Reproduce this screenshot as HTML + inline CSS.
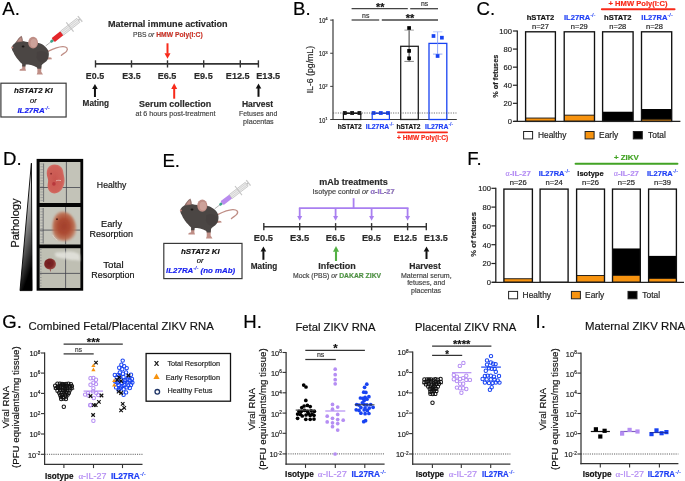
<!DOCTYPE html>
<html><head><meta charset="utf-8"><title>Figure</title>
<style>
html,body{margin:0;padding:0;background:#fff;}
body{width:685px;height:481px;overflow:hidden;position:relative;}
svg{position:absolute;left:0;top:0;display:block;filter:blur(0.3px);}
text{font-family:"Liberation Sans",sans-serif;}
</style></head><body>
<svg width="685" height="481" viewBox="0 0 685 481">
<defs><linearGradient id="tri" x1="0" y1="0" x2="0.25" y2="1"><stop offset="0" stop-color="#fff"/><stop offset="0.35" stop-color="#d8d8d8"/><stop offset="0.75" stop-color="#555"/><stop offset="1" stop-color="#000"/></linearGradient><filter id="bl1" x="-20%" y="-20%" width="140%" height="140%"><feGaussianBlur stdDeviation="0.45"/></filter><filter id="bl2" x="-20%" y="-20%" width="140%" height="140%"><feGaussianBlur stdDeviation="0.9"/></filter><radialGradient id="emb1" cx="0.45" cy="0.5" r="0.6"><stop offset="0" stop-color="#c9564f"/><stop offset="0.75" stop-color="#cf625a"/><stop offset="1" stop-color="#d6847a"/></radialGradient><radialGradient id="emb2" cx="0.48" cy="0.5" r="0.55"><stop offset="0" stop-color="#a2402c"/><stop offset="0.45" stop-color="#ac4a32"/><stop offset="0.8" stop-color="#bb6a4c" stop-opacity="0.9"/><stop offset="1" stop-color="#c99a84" stop-opacity="0.55"/></radialGradient><radialGradient id="emb3" cx="0.4" cy="0.45" r="0.6"><stop offset="0" stop-color="#6e1c1e"/><stop offset="0.6" stop-color="#7a2424"/><stop offset="1" stop-color="#9a4a42"/></radialGradient></defs>
<text x="2.3" y="15" font-size="18.6" fill="#000" stroke="#000" stroke-width="0.18">A.</text>
<text x="293" y="14.6" font-size="18.6" fill="#000" stroke="#000" stroke-width="0.18">B.</text>
<text x="476.6" y="15.2" font-size="18.6" fill="#000" stroke="#000" stroke-width="0.18">C.</text>
<text x="3" y="165" font-size="18.6" fill="#000" stroke="#000" stroke-width="0.18">D.</text>
<text x="162.4" y="166.8" font-size="18.6" fill="#000" stroke="#000" stroke-width="0.18">E.</text>
<text x="467.3" y="165" font-size="18.6" fill="#000" stroke="#000" stroke-width="0.18">F.</text>
<text x="2.3" y="328.1" font-size="18.6" fill="#000" stroke="#000" stroke-width="0.18">G.</text>
<text x="243.3" y="328" font-size="18.6" fill="#000" stroke="#000" stroke-width="0.18">H.</text>
<text x="535.6" y="328.2" font-size="18.6" fill="#000" stroke="#000" stroke-width="0.18">I.</text>
<g transform="translate(0,0) scale(1)"><path d="M48,51.4 C52.5,49.2 57.5,46.8 62.5,46.6 C66.8,46.4 68.6,48.6 66.5,51.3 C65,53.2 62.6,53.6 61.4,55.4" fill="none" stroke="#bf8e86" stroke-width="1.3" stroke-linecap="round"/><path d="M47.4,57.2 L51.2,57.6 L52,59.2 L47.2,59.6 Z" fill="#bf8e86"/><path d="M22.2,63.5 L25.4,63.5 L25.4,68.6 L26,70.7 L19.5,70.7 L19.9,69.2 L22.2,68.6 Z" fill="#bf8e86"/><path d="M37.4,66 L41.4,66 L41.2,71.8 L43,74.6 L36.7,74.6 L37.4,72.4 Z" fill="#bf8e86"/><path d="M11.6,47.3 C12.2,45.6 13.2,44.5 14.6,43.4 C15.6,42.6 16.4,41.8 17.1,41.1 L22.8,41.1 C25,41.6 27,42 29,42.2 C33,42.5 36,42.6 38.6,43 C41,43.6 43.4,44.9 45,46.4 C47.2,48.3 48.6,50.6 48.8,53 C49,55.5 48.6,58 47.2,60.2 C46.2,61.6 44.8,62.6 43.4,63.4 C42.4,64 41.8,64.6 41.6,65.5 L41.2,68.8 L37.4,68.8 L37,67.4 C35,66.4 33,65.4 31,65 C29,64.7 27,64.5 25.7,64.5 L25.4,66.6 L22.2,66.6 L22.3,64 C21,63 19.8,62 19,60.7 C17.6,59 16.4,57.6 15.7,56.4 C14.6,55 13.8,53.6 13.3,52.1 C12.6,51 11.8,49.8 11.6,47.3 Z" fill="#4b4644"/><path d="M37,52 C41,50 46,51 47.8,54.5 C48.6,57.5 46.8,60.5 44,62 C40.5,63.2 37.5,61 36.6,57.5 Z" fill="#3e3937" opacity="0.3"/><path d="M15.8,42.6 C17.2,39.6 19.2,37.2 21.5,35.8 C22.6,38 23,40 22.8,41.8 Z" fill="#8e6e69"/><path d="M17.6,41.6 C18.6,39.6 19.9,38.1 21.2,37.3 C21.7,38.8 21.8,40.2 21.6,41.3 Z" fill="#bf8e86"/><ellipse cx="33.1" cy="42.7" rx="4.9" ry="5.9" fill="#bf8e86"/><ellipse cx="33.7" cy="43.2" rx="3.2" ry="4.1" fill="#cda29a"/><ellipse cx="23.1" cy="46.5" rx="1.4" ry="0.95" fill="#1b1716"/><circle cx="12.3" cy="47.4" r="1.0" fill="#c98a82"/></g>
<g transform="translate(45.6,46) rotate(-38.1) scale(1)"><line x1="0" y1="0" x2="7" y2="0" stroke="#8a8a8a" stroke-width="0.6"/><rect x="6.3" y="-1.4" width="3.6" height="2.8" rx="1" fill="#3fa58c"/><rect x="9.6" y="-2.5" width="11.2" height="5.0" rx="0.6" fill="#e3262b"/><rect x="20.8" y="-2.5" width="20.8" height="5.0" fill="#ececec" stroke="#a8a8a8" stroke-width="0.5"/><line x1="21" y1="-0.9" x2="41.4" y2="-0.9" stroke="#c6c6c6" stroke-width="0.6"/><line x1="21" y1="0.9" x2="41.4" y2="0.9" stroke="#c6c6c6" stroke-width="0.6"/><line x1="30.9" y1="-5.9" x2="30.9" y2="5.9" stroke="#c4c4c4" stroke-width="1.1"/><line x1="41.6" y1="0" x2="43.6" y2="0" stroke="#bdbdbd" stroke-width="1.6"/><line x1="43.8" y1="-3.6" x2="43.8" y2="3.6" stroke="#c9c9c9" stroke-width="1.4"/></g>
<rect x="0.9" y="83.2" width="65.2" height="33.8" fill="#fff" stroke="#3a3a3a" stroke-width="1.2" />
<text x="33.3" y="92.8" font-size="7.9" font-weight="bold" font-style="italic" fill="#111" stroke="#111" stroke-width="0.18" text-anchor="middle">hSTAT2 KI</text>
<text x="33.3" y="102.9" font-size="7.6" font-style="italic" fill="#111" stroke="#111" stroke-width="0.18" text-anchor="middle">or</text>
<text x="17.4" y="112.8" font-size="7.9" font-weight="bold" font-style="italic" fill="#1a22f0" stroke="#1a22f0" stroke-width="0.18">IL27RA<tspan font-size="5.38" font-weight="normal" dy="-3">-/-</tspan></text>
<line x1="95.4" y1="63.9" x2="258.6" y2="63.9" stroke="#333" stroke-width="1.6" />
<line x1="95.5" y1="60.3" x2="95.5" y2="67.5" stroke="#333" stroke-width="1.4" />
<line x1="131.5" y1="60.3" x2="131.5" y2="67.5" stroke="#333" stroke-width="1.4" />
<line x1="167.5" y1="60.3" x2="167.5" y2="67.5" stroke="#333" stroke-width="1.4" />
<line x1="203.7" y1="60.3" x2="203.7" y2="67.5" stroke="#333" stroke-width="1.4" />
<line x1="240.3" y1="60.3" x2="240.3" y2="67.5" stroke="#333" stroke-width="1.4" />
<line x1="258.4" y1="60.3" x2="258.4" y2="67.5" stroke="#333" stroke-width="1.4" />
<text x="85.8" y="78.9" font-size="9.6" textLength="18.3" lengthAdjust="spacingAndGlyphs" font-weight="bold" fill="#2a2a2a" stroke="#2a2a2a" stroke-width="0.18">E0.5</text>
<text x="122.3" y="78.9" font-size="9.6" textLength="18.3" lengthAdjust="spacingAndGlyphs" font-weight="bold" fill="#2a2a2a" stroke="#2a2a2a" stroke-width="0.18">E3.5</text>
<text x="157.7" y="78.9" font-size="9.6" textLength="18.7" lengthAdjust="spacingAndGlyphs" font-weight="bold" fill="#2a2a2a" stroke="#2a2a2a" stroke-width="0.18">E6.5</text>
<text x="194" y="78.9" font-size="9.6" textLength="18.7" lengthAdjust="spacingAndGlyphs" font-weight="bold" fill="#2a2a2a" stroke="#2a2a2a" stroke-width="0.18">E9.5</text>
<text x="225.8" y="78.9" font-size="9.6" textLength="23.9" lengthAdjust="spacingAndGlyphs" font-weight="bold" fill="#2a2a2a" stroke="#2a2a2a" stroke-width="0.18">E12.5</text>
<text x="256.2" y="78.9" font-size="9.6" textLength="24" lengthAdjust="spacingAndGlyphs" font-weight="bold" fill="#2a2a2a" stroke="#2a2a2a" stroke-width="0.18">E13.5</text>
<text x="108" y="27.4" font-size="9.6" textLength="119.6" lengthAdjust="spacingAndGlyphs" font-weight="bold" fill="#2a2a2a" stroke="#2a2a2a" stroke-width="0.18">Maternal immune activation</text>
<text x="132.9" y="36.6" font-size="7.6" textLength="69.8" lengthAdjust="spacingAndGlyphs" fill="#444" stroke="#444" stroke-width="0.18">PBS <tspan font-style="italic">or</tspan> <tspan font-weight="bold" fill="#f82a1a">HMW Poly(I:C)</tspan></text>
<line x1="167.5" y1="43.3" x2="167.5" y2="53.7" stroke="#f82a1a" stroke-width="2" />
<path d="M164.5,53.2 L170.5,53.2 L167.5,58.8 Z" fill="#f82a1a" />
<line x1="94.95" y1="88.5" x2="94.95" y2="97" stroke="#111" stroke-width="2" />
<path d="M92.15,89 L97.75,89 L94.95,84 Z" fill="#111" />
<line x1="174.2" y1="88.4" x2="174.2" y2="98.7" stroke="#f82a1a" stroke-width="2" />
<path d="M171.2,88.9 L177.2,88.9 L174.2,83.3 Z" fill="#f82a1a" />
<line x1="258.5" y1="87.9" x2="258.5" y2="96.8" stroke="#111" stroke-width="2" />
<path d="M255.7,88.4 L261.3,88.4 L258.5,83.4 Z" fill="#111" />
<text x="82.6" y="105.7" font-size="8.7" textLength="26.3" lengthAdjust="spacingAndGlyphs" font-weight="bold" fill="#2a2a2a" stroke="#2a2a2a" stroke-width="0.18">Mating</text>
<text x="139" y="106.8" font-size="9" textLength="72.2" lengthAdjust="spacingAndGlyphs" font-weight="bold" fill="#2a2a2a" stroke="#2a2a2a" stroke-width="0.18">Serum collection</text>
<text x="135.4" y="115.6" font-size="7.3" textLength="80.2" lengthAdjust="spacingAndGlyphs" fill="#444" stroke="#444" stroke-width="0.18">at 6 hours post-treatment</text>
<text x="241.9" y="106.6" font-size="8.6" textLength="31.3" lengthAdjust="spacingAndGlyphs" font-weight="bold" fill="#2a2a2a" stroke="#2a2a2a" stroke-width="0.18">Harvest</text>
<text x="239" y="116" font-size="7.3" textLength="38.3" lengthAdjust="spacingAndGlyphs" fill="#444" stroke="#444" stroke-width="0.18">Fetuses and</text>
<text x="243.1" y="123.8" font-size="7.3" textLength="30.6" lengthAdjust="spacingAndGlyphs" fill="#444" stroke="#444" stroke-width="0.18">placentas</text>
<line x1="333" y1="19.2" x2="333" y2="120.1" stroke="#3a3a3a" stroke-width="1.2" />
<line x1="332.4" y1="119.5" x2="456.8" y2="119.5" stroke="#3a3a3a" stroke-width="1.2" />
<line x1="330.2" y1="119.5" x2="333" y2="119.5" stroke="#3a3a3a" stroke-width="1" />
<text x="319.1" y="122.5" font-size="6.7" textLength="6.1" lengthAdjust="spacingAndGlyphs" fill="#222" stroke="#222" stroke-width="0.18">10</text>
<text x="325.3" y="119.8" font-size="4.3" fill="#222" stroke="#222" stroke-width="0.18">1</text>
<line x1="330.2" y1="86.37" x2="333" y2="86.37" stroke="#3a3a3a" stroke-width="1" />
<text x="319.1" y="89.37" font-size="6.7" textLength="6.1" lengthAdjust="spacingAndGlyphs" fill="#222" stroke="#222" stroke-width="0.18">10</text>
<text x="325.3" y="86.67" font-size="4.3" fill="#222" stroke="#222" stroke-width="0.18">2</text>
<line x1="330.2" y1="53.24" x2="333" y2="53.24" stroke="#3a3a3a" stroke-width="1" />
<text x="319.1" y="56.24" font-size="6.7" textLength="6.1" lengthAdjust="spacingAndGlyphs" fill="#222" stroke="#222" stroke-width="0.18">10</text>
<text x="325.3" y="53.54" font-size="4.3" fill="#222" stroke="#222" stroke-width="0.18">3</text>
<line x1="330.2" y1="20.11" x2="333" y2="20.11" stroke="#3a3a3a" stroke-width="1" />
<text x="319.1" y="23.11" font-size="6.7" textLength="6.1" lengthAdjust="spacingAndGlyphs" fill="#222" stroke="#222" stroke-width="0.18">10</text>
<text x="325.3" y="20.41" font-size="4.3" fill="#222" stroke="#222" stroke-width="0.18">4</text>
<rect x="343.4" y="113.4" width="17.4" height="6.1" fill="#fff" stroke="#111" stroke-width="1.2" />
<rect x="372.2" y="113.4" width="17.2" height="6.1" fill="#fff" stroke="#1843f2" stroke-width="1.2" />
<line x1="344.6" y1="113" x2="359.6" y2="113" stroke="#111" stroke-width="1" />
<line x1="373.4" y1="113" x2="388.2" y2="113" stroke="#1843f2" stroke-width="1" />
<rect x="342.9" y="111.1" width="3.8" height="3.8" fill="#111" />
<rect x="350.2" y="111.1" width="3.8" height="3.8" fill="#111" />
<rect x="357.5" y="111.1" width="3.8" height="3.8" fill="#111" />
<rect x="371.7" y="111.1" width="3.8" height="3.8" fill="#1843f2" />
<rect x="378.9" y="111.1" width="3.8" height="3.8" fill="#1843f2" />
<rect x="386.1" y="111.1" width="3.8" height="3.8" fill="#1843f2" />
<rect x="400.7" y="46.3" width="17.6" height="73.2" fill="#fff" stroke="#222" stroke-width="1.3" />
<line x1="409.1" y1="30.1" x2="409.1" y2="61.4" stroke="#222" stroke-width="0.9" />
<line x1="404.4" y1="30.1" x2="413.9" y2="30.1" stroke="#888" stroke-width="0.8" />
<line x1="404.4" y1="61.4" x2="413.9" y2="61.4" stroke="#666" stroke-width="0.8" />
<rect x="407.25" y="26.15" width="3.7" height="3.7" fill="#000" />
<rect x="407.25" y="49.05" width="3.7" height="3.7" fill="#000" />
<rect x="407.25" y="56.45" width="3.7" height="3.7" fill="#000" />
<rect x="429" y="43.4" width="17.8" height="76.1" fill="#fff" stroke="#1843f2" stroke-width="1.3" />
<line x1="437.6" y1="31.8" x2="437.6" y2="54.1" stroke="#7b96f5" stroke-width="0.8" />
<line x1="433" y1="31.8" x2="442.4" y2="31.8" stroke="#a9bcf7" stroke-width="0.8" />
<line x1="433" y1="54.1" x2="442.4" y2="54.1" stroke="#7b96f5" stroke-width="0.8" />
<rect x="431.65" y="34.15" width="3.7" height="3.7" fill="#1843f2" />
<rect x="440.05" y="35.85" width="3.7" height="3.7" fill="#1843f2" />
<rect x="435.75" y="54.15" width="3.7" height="3.7" fill="#1843f2" />
<line x1="333" y1="113" x2="456.5" y2="113" stroke="#444" stroke-width="0.75" stroke-dasharray="1.2,1.2"/>
<line x1="351.6" y1="8.7" x2="407.8" y2="8.7" stroke="#444" stroke-width="1.3" />
<line x1="410.2" y1="8.7" x2="438" y2="8.7" stroke="#444" stroke-width="1.3" />
<line x1="351.6" y1="20" x2="379.2" y2="20" stroke="#444" stroke-width="1.3" />
<line x1="381.8" y1="20" x2="438" y2="20" stroke="#444" stroke-width="1.3" />
<text x="376" y="10.6" font-size="10" textLength="8.4" lengthAdjust="spacingAndGlyphs" font-weight="bold" fill="#111" stroke="#111" stroke-width="0.18">**</text>
<text x="421" y="5.9" font-size="6.8" textLength="7.2" lengthAdjust="spacingAndGlyphs" fill="#333" stroke="#333" stroke-width="0.18">ns</text>
<text x="362.1" y="17.7" font-size="6.8" textLength="7.3" lengthAdjust="spacingAndGlyphs" fill="#333" stroke="#333" stroke-width="0.18">ns</text>
<text x="405.8" y="21.6" font-size="10" textLength="8.6" lengthAdjust="spacingAndGlyphs" font-weight="bold" fill="#111" stroke="#111" stroke-width="0.18">**</text>
<text x="0" y="0" font-size="9.4" textLength="47.4" lengthAdjust="spacingAndGlyphs" fill="#222" stroke="#222" stroke-width="0.18" text-anchor="middle" transform="translate(312.6,69.65) rotate(-90)">IL-6 (pg/mL)</text>
<text x="349.7" y="129" font-size="6.6" font-weight="bold" fill="#111" stroke="#111" stroke-width="0.18" text-anchor="middle">hSTAT2</text>
<text x="365.8" y="129" font-size="6.8" font-weight="bold" fill="#1f3ff5" stroke="#1f3ff5" stroke-width="0.18">IL27RA<tspan font-size="4.93" font-weight="normal" dy="-2.6">-/-</tspan></text>
<text x="408.4" y="129" font-size="6.6" font-weight="bold" fill="#111" stroke="#111" stroke-width="0.18" text-anchor="middle">hSTAT2</text>
<text x="425" y="129" font-size="6.8" font-weight="bold" fill="#1f3ff5" stroke="#1f3ff5" stroke-width="0.18">IL27RA<tspan font-size="4.93" font-weight="normal" dy="-2.6">-/-</tspan></text>
<line x1="397.9" y1="132.3" x2="447.1" y2="132.3" stroke="#f82a1a" stroke-width="1.7" stroke-linecap="round"/>
<text x="422.6" y="139.9" font-size="6.6" font-weight="bold" fill="#f82a1a" stroke="#f82a1a" stroke-width="0.18" text-anchor="middle">+ HMW Poly(I:C)</text>
<rect x="525.6" y="31" width="29.8" height="90.4" fill="#fff" />
<rect x="525.6" y="118.06" width="29.8" height="3.34" fill="#f7930f" />
<line x1="525.6" y1="118.06" x2="555.4" y2="118.06" stroke="#111" stroke-width="0.9" />
<rect x="525.6" y="31.8" width="29.8" height="89.6" fill="none" stroke="#111" stroke-width="1.35" />
<rect x="564.2" y="31" width="30.3" height="90.4" fill="#fff" />
<rect x="564.2" y="115.16" width="30.3" height="6.24" fill="#f7930f" />
<line x1="564.2" y1="115.16" x2="594.5" y2="115.16" stroke="#111" stroke-width="0.9" />
<rect x="564.2" y="31.8" width="30.3" height="89.6" fill="none" stroke="#111" stroke-width="1.35" />
<rect x="602.6" y="31" width="30.5" height="90.4" fill="#fff" />
<rect x="602.6" y="111.73" width="30.5" height="9.67" fill="#000" />
<rect x="602.6" y="31.8" width="30.5" height="89.6" fill="none" stroke="#111" stroke-width="1.35" />
<rect x="641.5" y="31" width="30.2" height="90.4" fill="#fff" />
<rect x="641.5" y="109.02" width="30.2" height="12.38" fill="#000" />
<rect x="641.5" y="119.23" width="30.2" height="2.17" fill="#f7930f" />
<line x1="641.5" y1="119.23" x2="671.7" y2="119.23" stroke="#111" stroke-width="0.9" />
<rect x="641.5" y="31.8" width="30.2" height="89.6" fill="none" stroke="#111" stroke-width="1.35" />
<line x1="517.3" y1="30.5" x2="517.3" y2="122" stroke="#222" stroke-width="1.3" />
<line x1="513.7" y1="121.4" x2="680.4" y2="121.4" stroke="#222" stroke-width="1.3" />
<line x1="512.9" y1="121.4" x2="517.3" y2="121.4" stroke="#222" stroke-width="1.2" />
<text x="511.9" y="124.2" font-size="7.6" fill="#222" stroke="#222" stroke-width="0.18" text-anchor="end">0</text>
<line x1="512.9" y1="103.32" x2="517.3" y2="103.32" stroke="#222" stroke-width="1.2" />
<text x="511.9" y="106.12" font-size="7.6" fill="#222" stroke="#222" stroke-width="0.18" text-anchor="end">20</text>
<line x1="512.9" y1="85.24" x2="517.3" y2="85.24" stroke="#222" stroke-width="1.2" />
<text x="511.9" y="88.04" font-size="7.6" fill="#222" stroke="#222" stroke-width="0.18" text-anchor="end">40</text>
<line x1="512.9" y1="67.16" x2="517.3" y2="67.16" stroke="#222" stroke-width="1.2" />
<text x="511.9" y="69.96" font-size="7.6" fill="#222" stroke="#222" stroke-width="0.18" text-anchor="end">60</text>
<line x1="512.9" y1="49.08" x2="517.3" y2="49.08" stroke="#222" stroke-width="1.2" />
<text x="511.9" y="51.88" font-size="7.6" fill="#222" stroke="#222" stroke-width="0.18" text-anchor="end">80</text>
<line x1="512.9" y1="31" x2="517.3" y2="31" stroke="#222" stroke-width="1.2" />
<text x="511.9" y="33.8" font-size="7.6" fill="#222" stroke="#222" stroke-width="0.18" text-anchor="end">100</text>
<text x="540.5" y="19.7" font-size="7.6" font-weight="bold" fill="#111" stroke="#111" stroke-width="0.18" text-anchor="middle">hSTAT2</text>
<text x="540.5" y="28.9" font-size="7.5" fill="#222" stroke="#222" stroke-width="0.18" text-anchor="middle">n=27</text>
<text x="564" y="19.7" font-size="7.6" font-weight="bold" fill="#1f3ff5" stroke="#1f3ff5" stroke-width="0.18">IL27RA<tspan font-size="5.6" font-weight="normal" dy="-3">-/-</tspan></text>
<text x="579.3" y="28.9" font-size="7.5" fill="#222" stroke="#222" stroke-width="0.18" text-anchor="middle">n=29</text>
<text x="617.8" y="19.7" font-size="7.6" font-weight="bold" fill="#111" stroke="#111" stroke-width="0.18" text-anchor="middle">hSTAT2</text>
<text x="617.8" y="28.9" font-size="7.5" fill="#222" stroke="#222" stroke-width="0.18" text-anchor="middle">n=28</text>
<text x="641.3" y="19.7" font-size="7.6" font-weight="bold" fill="#1f3ff5" stroke="#1f3ff5" stroke-width="0.18">IL27RA<tspan font-size="5.6" font-weight="normal" dy="-3">-/-</tspan></text>
<text x="654.5" y="28.9" font-size="7.5" fill="#222" stroke="#222" stroke-width="0.18" text-anchor="middle">n=28</text>
<line x1="601.9" y1="9.2" x2="674.5" y2="9.2" stroke="#f82a1a" stroke-width="2.1" stroke-linecap="round"/>
<text x="638" y="6.4" font-size="7.6" font-weight="bold" fill="#f82a1a" stroke="#f82a1a" stroke-width="0.18" text-anchor="middle">+ HMW Poly(I:C)</text>
<text x="0" y="0" font-size="7.3" font-weight="bold" fill="#222" stroke="#222" stroke-width="0.18" text-anchor="middle" transform="translate(497.8,76.2) rotate(-90)">% of fetuses</text>
<rect x="523.6" y="131.5" width="9" height="7.4" fill="#fff" stroke="#222" stroke-width="1" />
<text x="538" y="138.2" font-size="8.4" fill="#222" stroke="#222" stroke-width="0.18">Healthy</text>
<rect x="585.1" y="131.5" width="9" height="7.4" fill="#f7930f" stroke="#222" stroke-width="1" />
<text x="599.1" y="138.2" font-size="8.4" fill="#222" stroke="#222" stroke-width="0.18">Early</text>
<rect x="633.3" y="131.5" width="9" height="7.4" fill="#000" stroke="#222" stroke-width="1" />
<text x="648.1" y="138.2" font-size="8.4" fill="#222" stroke="#222" stroke-width="0.18">Total</text>
<path d="M31.4,163.2 L32.1,290.6 L20.0,290.6 Z" fill="url(#tri)" stroke="#000" stroke-width="0.9" />
<text x="0" y="0" font-size="10.9" textLength="49.3" lengthAdjust="spacingAndGlyphs" fill="#111" stroke="#111" stroke-width="0.18" text-anchor="middle" transform="translate(18.5,223.1) rotate(-90)">Pathology</text>
<rect x="36.6" y="158.9" width="46.6" height="131.8" fill="#050505" />
<rect x="39.6" y="162" width="40.8" height="41" fill="#c3c3b8" />
<rect x="39.6" y="207" width="40.8" height="37.5" fill="#c6c6bc" />
<rect x="39.6" y="248.2" width="40.8" height="39.8" fill="#bfbfb3" />
<line x1="66.4" y1="162" x2="66.4" y2="203" stroke="#42444c" stroke-width="0.8" />
<line x1="39.6" y1="187.5" x2="80.4" y2="187.5" stroke="#42444c" stroke-width="0.8" />
<line x1="43.6" y1="163.5" x2="43.6" y2="202" stroke="#4a4c54" stroke-width="0.7" />
<line x1="40.4" y1="164" x2="43.4" y2="164" stroke="#7a7c84" stroke-width="0.5" />
<line x1="40.4" y1="166.8" x2="43.4" y2="166.8" stroke="#7a7c84" stroke-width="0.5" />
<line x1="40.4" y1="169.6" x2="43.4" y2="169.6" stroke="#7a7c84" stroke-width="0.5" />
<line x1="40.4" y1="172.4" x2="43.4" y2="172.4" stroke="#7a7c84" stroke-width="0.5" />
<line x1="40.4" y1="175.2" x2="43.4" y2="175.2" stroke="#7a7c84" stroke-width="0.5" />
<line x1="40.4" y1="178" x2="43.4" y2="178" stroke="#7a7c84" stroke-width="0.5" />
<line x1="40.4" y1="180.8" x2="43.4" y2="180.8" stroke="#7a7c84" stroke-width="0.5" />
<line x1="40.4" y1="183.6" x2="43.4" y2="183.6" stroke="#7a7c84" stroke-width="0.5" />
<line x1="40.4" y1="186.4" x2="43.4" y2="186.4" stroke="#7a7c84" stroke-width="0.5" />
<line x1="40.4" y1="189.2" x2="43.4" y2="189.2" stroke="#7a7c84" stroke-width="0.5" />
<line x1="40.4" y1="192" x2="43.4" y2="192" stroke="#7a7c84" stroke-width="0.5" />
<line x1="40.4" y1="194.8" x2="43.4" y2="194.8" stroke="#7a7c84" stroke-width="0.5" />
<line x1="40.4" y1="197.6" x2="43.4" y2="197.6" stroke="#7a7c84" stroke-width="0.5" />
<line x1="40.4" y1="200.4" x2="43.4" y2="200.4" stroke="#7a7c84" stroke-width="0.5" />
<path d="M54.6,164.6 C59.5,164.6 63.2,167.8 63.4,172.5 C63.6,175.5 64.8,177.5 64.6,181 C64.4,187 60.5,193.4 54.6,193.4 C50,193.4 47.4,189.5 47.6,185.5 C47.8,182.5 48.6,181 47.8,178.5 C46.6,175 46.2,171.5 47.6,168.6 C49,165.8 51.6,164.6 54.6,164.6 Z" fill="url(#emb1)" filter="url(#bl1)"/>
<circle cx="51.1" cy="173.7" r="0.9" fill="#8a2a2a"/>
<circle cx="53.9" cy="183.9" r="1.8" fill="#b8383c"/>
<path d="M56,180.8 C57.8,180.2 59.6,180.2 61,180.6" fill="none" stroke="#f1dcd6" stroke-width="0.6" />
<line x1="65.6" y1="207" x2="65.6" y2="244.5" stroke="#42444c" stroke-width="0.8" />
<line x1="39.6" y1="230.1" x2="80.4" y2="230.1" stroke="#42444c" stroke-width="0.8" />
<line x1="43.2" y1="208" x2="43.2" y2="243.5" stroke="#4a4c54" stroke-width="0.7" />
<line x1="40.4" y1="209" x2="43" y2="209" stroke="#7a7c84" stroke-width="0.5" />
<line x1="40.4" y1="211.8" x2="43" y2="211.8" stroke="#7a7c84" stroke-width="0.5" />
<line x1="40.4" y1="214.6" x2="43" y2="214.6" stroke="#7a7c84" stroke-width="0.5" />
<line x1="40.4" y1="217.4" x2="43" y2="217.4" stroke="#7a7c84" stroke-width="0.5" />
<line x1="40.4" y1="220.2" x2="43" y2="220.2" stroke="#7a7c84" stroke-width="0.5" />
<line x1="40.4" y1="223" x2="43" y2="223" stroke="#7a7c84" stroke-width="0.5" />
<line x1="40.4" y1="225.8" x2="43" y2="225.8" stroke="#7a7c84" stroke-width="0.5" />
<line x1="40.4" y1="228.6" x2="43" y2="228.6" stroke="#7a7c84" stroke-width="0.5" />
<line x1="40.4" y1="231.4" x2="43" y2="231.4" stroke="#7a7c84" stroke-width="0.5" />
<line x1="40.4" y1="234.2" x2="43" y2="234.2" stroke="#7a7c84" stroke-width="0.5" />
<line x1="40.4" y1="237" x2="43" y2="237" stroke="#7a7c84" stroke-width="0.5" />
<line x1="40.4" y1="239.8" x2="43" y2="239.8" stroke="#7a7c84" stroke-width="0.5" />
<line x1="40.4" y1="242.6" x2="43" y2="242.6" stroke="#7a7c84" stroke-width="0.5" />
<path d="M62,211.6 C67.5,211.5 72,215 74.5,220.5 C76.5,225 77,230.5 75.5,234.5 C73.5,239 68.5,241.2 63.5,241 C58.5,240.8 54.5,239 53.2,234.5 C52,230 52,224 53.5,219.5 C55,214.5 58,211.7 62,211.6 Z" fill="url(#emb2)" filter="url(#bl2)"/>
<circle cx="57" cy="219.2" r="0.9" fill="#4a1a14"/>
<path d="M52.6,234.8 C53.8,237.4 55.6,239.2 57.4,240.2" fill="none" stroke="#efe4da" stroke-width="0.6" />
<line x1="65.6" y1="248.2" x2="65.6" y2="288" stroke="#42444c" stroke-width="0.8" />
<line x1="39.6" y1="273.4" x2="80.4" y2="273.4" stroke="#42444c" stroke-width="0.8" />
<line x1="39.8" y1="249.5" x2="41.6" y2="249.5" stroke="#6a6c74" stroke-width="0.5" />
<line x1="39.8" y1="252.3" x2="41.6" y2="252.3" stroke="#6a6c74" stroke-width="0.5" />
<line x1="39.8" y1="255.1" x2="41.6" y2="255.1" stroke="#6a6c74" stroke-width="0.5" />
<line x1="39.8" y1="257.9" x2="41.6" y2="257.9" stroke="#6a6c74" stroke-width="0.5" />
<line x1="39.8" y1="260.7" x2="41.6" y2="260.7" stroke="#6a6c74" stroke-width="0.5" />
<line x1="39.8" y1="263.5" x2="41.6" y2="263.5" stroke="#6a6c74" stroke-width="0.5" />
<line x1="39.8" y1="266.3" x2="41.6" y2="266.3" stroke="#6a6c74" stroke-width="0.5" />
<line x1="39.8" y1="269.1" x2="41.6" y2="269.1" stroke="#6a6c74" stroke-width="0.5" />
<line x1="39.8" y1="271.9" x2="41.6" y2="271.9" stroke="#6a6c74" stroke-width="0.5" />
<line x1="39.8" y1="274.7" x2="41.6" y2="274.7" stroke="#6a6c74" stroke-width="0.5" />
<line x1="39.8" y1="277.5" x2="41.6" y2="277.5" stroke="#6a6c74" stroke-width="0.5" />
<line x1="39.8" y1="280.3" x2="41.6" y2="280.3" stroke="#6a6c74" stroke-width="0.5" />
<line x1="39.8" y1="283.1" x2="41.6" y2="283.1" stroke="#6a6c74" stroke-width="0.5" />
<line x1="39.8" y1="285.9" x2="41.6" y2="285.9" stroke="#6a6c74" stroke-width="0.5" />
<path d="M54.6,253.4 C58,251.6 63,252.6 67,251.8 C71,251 76,252.2 79.6,254.6 L80.2,261 C76.5,259.6 72,260.6 68,259.2 C64,258 59,258.4 55.6,256.4 Z" fill="#e4e4de" filter="url(#bl2)" opacity="0.85"/>
<path d="M44.2,264 C44.2,260.6 46.8,258.4 50,258.4 C53.4,258.4 55.9,260.8 55.9,264 C55.9,267.2 53.4,269.4 50.2,269.4 C46.8,269.4 44.2,267.2 44.2,264 Z" fill="url(#emb3)" filter="url(#bl1)"/>
<line x1="50.3" y1="269" x2="50.5" y2="271.4" stroke="#8a4440" stroke-width="0.8" />
<text x="111.6" y="187.8" font-size="9.4" textLength="29.5" lengthAdjust="spacingAndGlyphs" fill="#111" stroke="#111" stroke-width="0.18" text-anchor="middle">Healthy</text>
<text x="111.5" y="227" font-size="9.4" textLength="21" lengthAdjust="spacingAndGlyphs" fill="#111" stroke="#111" stroke-width="0.18" text-anchor="middle">Early</text>
<text x="111.3" y="237" font-size="9.4" textLength="43.5" lengthAdjust="spacingAndGlyphs" fill="#111" stroke="#111" stroke-width="0.18" text-anchor="middle">Resorption</text>
<text x="113.4" y="268.2" font-size="9.4" textLength="20.5" lengthAdjust="spacingAndGlyphs" fill="#111" stroke="#111" stroke-width="0.18" text-anchor="middle">Total</text>
<text x="112.9" y="278" font-size="9.4" textLength="43.3" lengthAdjust="spacingAndGlyphs" fill="#111" stroke="#111" stroke-width="0.18" text-anchor="middle">Resorption</text>
<g transform="translate(168.2,161.6) scale(1.03)"><path d="M48,51.4 C52.5,49.2 57.5,46.8 62.5,46.6 C66.8,46.4 68.6,48.6 66.5,51.3 C65,53.2 62.6,53.6 61.4,55.4" fill="none" stroke="#bf8e86" stroke-width="1.3" stroke-linecap="round"/><path d="M47.4,57.2 L51.2,57.6 L52,59.2 L47.2,59.6 Z" fill="#bf8e86"/><path d="M22.2,63.5 L25.4,63.5 L25.4,68.6 L26,70.7 L19.5,70.7 L19.9,69.2 L22.2,68.6 Z" fill="#bf8e86"/><path d="M37.4,66 L41.4,66 L41.2,71.8 L43,74.6 L36.7,74.6 L37.4,72.4 Z" fill="#bf8e86"/><path d="M11.6,47.3 C12.2,45.6 13.2,44.5 14.6,43.4 C15.6,42.6 16.4,41.8 17.1,41.1 L22.8,41.1 C25,41.6 27,42 29,42.2 C33,42.5 36,42.6 38.6,43 C41,43.6 43.4,44.9 45,46.4 C47.2,48.3 48.6,50.6 48.8,53 C49,55.5 48.6,58 47.2,60.2 C46.2,61.6 44.8,62.6 43.4,63.4 C42.4,64 41.8,64.6 41.6,65.5 L41.2,68.8 L37.4,68.8 L37,67.4 C35,66.4 33,65.4 31,65 C29,64.7 27,64.5 25.7,64.5 L25.4,66.6 L22.2,66.6 L22.3,64 C21,63 19.8,62 19,60.7 C17.6,59 16.4,57.6 15.7,56.4 C14.6,55 13.8,53.6 13.3,52.1 C12.6,51 11.8,49.8 11.6,47.3 Z" fill="#4b4644"/><path d="M37,52 C41,50 46,51 47.8,54.5 C48.6,57.5 46.8,60.5 44,62 C40.5,63.2 37.5,61 36.6,57.5 Z" fill="#3e3937" opacity="0.3"/><path d="M15.8,42.6 C17.2,39.6 19.2,37.2 21.5,35.8 C22.6,38 23,40 22.8,41.8 Z" fill="#8e6e69"/><path d="M17.6,41.6 C18.6,39.6 19.9,38.1 21.2,37.3 C21.7,38.8 21.8,40.2 21.6,41.3 Z" fill="#bf8e86"/><ellipse cx="33.1" cy="42.7" rx="4.9" ry="5.9" fill="#bf8e86"/><ellipse cx="33.7" cy="43.2" rx="3.2" ry="4.1" fill="#cda29a"/><ellipse cx="23.1" cy="46.5" rx="1.4" ry="0.95" fill="#1b1716"/><circle cx="12.3" cy="47.4" r="1.0" fill="#c98a82"/></g>
<g transform="translate(214.7,208.8) rotate(-37.5) scale(0.97)"><line x1="0" y1="0" x2="7" y2="0" stroke="#8a8a8a" stroke-width="0.6"/><rect x="6.3" y="-1.4" width="3.6" height="2.8" rx="1" fill="#3fa58c"/><rect x="9.6" y="-2.5" width="11.2" height="5.0" rx="0.6" fill="#b98bef"/><rect x="20.8" y="-2.5" width="20.8" height="5.0" fill="#ececec" stroke="#a8a8a8" stroke-width="0.5"/><line x1="21" y1="-0.9" x2="41.4" y2="-0.9" stroke="#c6c6c6" stroke-width="0.6"/><line x1="21" y1="0.9" x2="41.4" y2="0.9" stroke="#c6c6c6" stroke-width="0.6"/><line x1="30.9" y1="-5.9" x2="30.9" y2="5.9" stroke="#c4c4c4" stroke-width="1.1"/><line x1="41.6" y1="0" x2="43.6" y2="0" stroke="#bdbdbd" stroke-width="1.6"/><line x1="43.8" y1="-3.6" x2="43.8" y2="3.6" stroke="#c9c9c9" stroke-width="1.4"/></g>
<rect x="163.8" y="243.4" width="78.2" height="35.2" fill="#fff" stroke="#3a3a3a" stroke-width="1.2" />
<text x="200.3" y="253.7" font-size="7.9" font-weight="bold" font-style="italic" fill="#111" stroke="#111" stroke-width="0.18" text-anchor="middle">hSTAT2 KI</text>
<text x="200.2" y="263.4" font-size="7.6" font-style="italic" fill="#111" stroke="#111" stroke-width="0.18" text-anchor="middle">or</text>
<text x="166.1" y="272.7" font-size="7.9" font-weight="bold" font-style="italic" fill="#1a22f0" stroke="#1a22f0" stroke-width="0.18">IL27RA<tspan font-size="5.38" font-weight="normal" dy="-3">-/-</tspan><tspan dy="3.0"> (no mAb)</tspan></text>
<line x1="263.8" y1="226.7" x2="426.3" y2="226.7" stroke="#333" stroke-width="1.6" />
<line x1="263.8" y1="223.1" x2="263.8" y2="230.3" stroke="#333" stroke-width="1.4" />
<line x1="299.7" y1="223.1" x2="299.7" y2="230.3" stroke="#333" stroke-width="1.4" />
<line x1="335.6" y1="223.1" x2="335.6" y2="230.3" stroke="#333" stroke-width="1.4" />
<line x1="371.6" y1="223.1" x2="371.6" y2="230.3" stroke="#333" stroke-width="1.4" />
<line x1="407.6" y1="223.1" x2="407.6" y2="230.3" stroke="#333" stroke-width="1.4" />
<line x1="426.3" y1="223.1" x2="426.3" y2="230.3" stroke="#333" stroke-width="1.4" />
<text x="253.7" y="240.7" font-size="9.6" textLength="19.3" lengthAdjust="spacingAndGlyphs" font-weight="bold" fill="#2a2a2a" stroke="#2a2a2a" stroke-width="0.18">E0.5</text>
<text x="289.9" y="240.7" font-size="9.6" textLength="19.3" lengthAdjust="spacingAndGlyphs" font-weight="bold" fill="#2a2a2a" stroke="#2a2a2a" stroke-width="0.18">E3.5</text>
<text x="325.7" y="240.7" font-size="9.6" textLength="19.3" lengthAdjust="spacingAndGlyphs" font-weight="bold" fill="#2a2a2a" stroke="#2a2a2a" stroke-width="0.18">E6.5</text>
<text x="361.9" y="240.7" font-size="9.6" textLength="19" lengthAdjust="spacingAndGlyphs" font-weight="bold" fill="#2a2a2a" stroke="#2a2a2a" stroke-width="0.18">E9.5</text>
<text x="393.5" y="240.7" font-size="9.6" textLength="23.6" lengthAdjust="spacingAndGlyphs" font-weight="bold" fill="#2a2a2a" stroke="#2a2a2a" stroke-width="0.18">E12.5</text>
<text x="424.1" y="240.7" font-size="9.6" textLength="23.6" lengthAdjust="spacingAndGlyphs" font-weight="bold" fill="#2a2a2a" stroke="#2a2a2a" stroke-width="0.18">E13.5</text>
<line x1="298.9" y1="208.1" x2="408.5" y2="208.1" stroke="#a97ff0" stroke-width="1.8" />
<line x1="353.6" y1="198.2" x2="353.6" y2="208.1" stroke="#a97ff0" stroke-width="1.8" />
<line x1="299.7" y1="208.1" x2="299.7" y2="216.5" stroke="#a97ff0" stroke-width="1.8" />
<path d="M297.2,216 L302.2,216 L299.7,220.8 Z" fill="#a97ff0" />
<line x1="335.6" y1="208.1" x2="335.6" y2="216.5" stroke="#a97ff0" stroke-width="1.8" />
<path d="M333.1,216 L338.1,216 L335.6,220.8 Z" fill="#a97ff0" />
<line x1="371.6" y1="208.1" x2="371.6" y2="216.5" stroke="#a97ff0" stroke-width="1.8" />
<path d="M369.1,216 L374.1,216 L371.6,220.8 Z" fill="#a97ff0" />
<line x1="407.6" y1="208.1" x2="407.6" y2="216.5" stroke="#a97ff0" stroke-width="1.8" />
<path d="M405.1,216 L410.1,216 L407.6,220.8 Z" fill="#a97ff0" />
<text x="353.4" y="185.1" font-size="9" font-weight="bold" fill="#2a2a2a" stroke="#2a2a2a" stroke-width="0.18" text-anchor="middle">mAb treatments</text>
<text x="353.5" y="193.6" font-size="7.3" fill="#444" stroke="#444" stroke-width="0.18" text-anchor="middle">Isotype control <tspan font-style="italic">or</tspan> <tspan font-weight="bold" fill="#a97ff0">α-IL-27</tspan></text>
<line x1="263.4" y1="251.1" x2="263.4" y2="259.8" stroke="#111" stroke-width="2" />
<path d="M260.6,251.6 L266.2,251.6 L263.4,246.6 Z" fill="#111" />
<line x1="336" y1="251.2" x2="336" y2="261" stroke="#52b043" stroke-width="2.1" />
<path d="M333,251.7 L339,251.7 L336,246.1 Z" fill="#52b043" />
<line x1="426.5" y1="251.1" x2="426.5" y2="259" stroke="#111" stroke-width="2" />
<path d="M423.7,251.6 L429.3,251.6 L426.5,246.6 Z" fill="#111" />
<text x="264" y="268.9" font-size="8.2" font-weight="bold" fill="#2a2a2a" stroke="#2a2a2a" stroke-width="0.18" text-anchor="middle">Mating</text>
<text x="336.9" y="269.4" font-size="9" font-weight="bold" fill="#2a2a2a" stroke="#2a2a2a" stroke-width="0.18" text-anchor="middle">Infection</text>
<text x="337.1" y="278.2" font-size="6.8" fill="#444" stroke="#444" stroke-width="0.18" text-anchor="middle">Mock (PBS) <tspan font-style="italic">or</tspan> <tspan font-weight="bold" fill="#52b043">DAKAR ZIKV</tspan></text>
<text x="425" y="268.9" font-size="8.6" font-weight="bold" fill="#2a2a2a" stroke="#2a2a2a" stroke-width="0.18" text-anchor="middle">Harvest</text>
<text x="426.3" y="278.2" font-size="7" fill="#444" stroke="#444" stroke-width="0.18" text-anchor="middle">Maternal serum,</text>
<text x="426.2" y="285.4" font-size="7" fill="#444" stroke="#444" stroke-width="0.18" text-anchor="middle">fetuses, and</text>
<text x="426.1" y="292.6" font-size="7" fill="#444" stroke="#444" stroke-width="0.18" text-anchor="middle">placentas</text>
<rect x="503.9" y="188.3" width="28.5" height="94" fill="#fff" />
<rect x="503.9" y="278.73" width="28.5" height="3.57" fill="#f7930f" />
<line x1="503.9" y1="278.73" x2="532.4" y2="278.73" stroke="#111" stroke-width="0.9" />
<rect x="503.9" y="189.1" width="28.5" height="93.2" fill="none" stroke="#111" stroke-width="1.35" />
<rect x="540.1" y="188.3" width="28" height="94" fill="#fff" />
<rect x="540.1" y="189.1" width="28" height="93.2" fill="none" stroke="#111" stroke-width="1.35" />
<rect x="576.6" y="188.3" width="27.9" height="94" fill="#fff" />
<rect x="576.6" y="275.53" width="27.9" height="6.77" fill="#f7930f" />
<line x1="576.6" y1="275.53" x2="604.5" y2="275.53" stroke="#111" stroke-width="0.9" />
<rect x="576.6" y="189.1" width="27.9" height="93.2" fill="none" stroke="#111" stroke-width="1.35" />
<rect x="612.5" y="188.3" width="27.8" height="94" fill="#fff" />
<rect x="612.5" y="248.46" width="27.8" height="33.84" fill="#000" />
<rect x="612.5" y="275.34" width="27.8" height="6.96" fill="#f7930f" />
<line x1="612.5" y1="275.34" x2="640.3" y2="275.34" stroke="#111" stroke-width="0.9" />
<rect x="612.5" y="189.1" width="27.8" height="93.2" fill="none" stroke="#111" stroke-width="1.35" />
<rect x="648.6" y="188.3" width="27.8" height="94" fill="#fff" />
<rect x="648.6" y="255.89" width="27.8" height="26.41" fill="#000" />
<rect x="648.6" y="278.35" width="27.8" height="3.95" fill="#f7930f" />
<line x1="648.6" y1="278.35" x2="676.4" y2="278.35" stroke="#111" stroke-width="0.9" />
<rect x="648.6" y="189.1" width="27.8" height="93.2" fill="none" stroke="#111" stroke-width="1.35" />
<line x1="495.8" y1="187.8" x2="495.8" y2="282.9" stroke="#222" stroke-width="1.3" />
<line x1="492.2" y1="282.3" x2="684" y2="282.3" stroke="#222" stroke-width="1.3" />
<line x1="491.4" y1="282.3" x2="495.8" y2="282.3" stroke="#222" stroke-width="1.2" />
<text x="490.9" y="285.1" font-size="7.6" fill="#222" stroke="#222" stroke-width="0.18" text-anchor="end">0</text>
<line x1="491.4" y1="263.5" x2="495.8" y2="263.5" stroke="#222" stroke-width="1.2" />
<text x="490.9" y="266.3" font-size="7.6" fill="#222" stroke="#222" stroke-width="0.18" text-anchor="end">20</text>
<line x1="491.4" y1="244.7" x2="495.8" y2="244.7" stroke="#222" stroke-width="1.2" />
<text x="490.9" y="247.5" font-size="7.6" fill="#222" stroke="#222" stroke-width="0.18" text-anchor="end">40</text>
<line x1="491.4" y1="225.9" x2="495.8" y2="225.9" stroke="#222" stroke-width="1.2" />
<text x="490.9" y="228.7" font-size="7.6" fill="#222" stroke="#222" stroke-width="0.18" text-anchor="end">60</text>
<line x1="491.4" y1="207.1" x2="495.8" y2="207.1" stroke="#222" stroke-width="1.2" />
<text x="490.9" y="209.9" font-size="7.6" fill="#222" stroke="#222" stroke-width="0.18" text-anchor="end">80</text>
<line x1="491.4" y1="188.3" x2="495.8" y2="188.3" stroke="#222" stroke-width="1.2" />
<text x="490.9" y="191.1" font-size="7.6" fill="#222" stroke="#222" stroke-width="0.18" text-anchor="end">100</text>
<text x="518.2" y="175.5" font-size="7.9" font-weight="bold" fill="#b58ef3" stroke="#b58ef3" stroke-width="0.18" text-anchor="middle"><tspan font-family="Liberation Serif" font-weight="normal">α</tspan>-IL-27</text>
<text x="518.2" y="185" font-size="7.6" fill="#222" stroke="#222" stroke-width="0.18" text-anchor="middle">n=26</text>
<text x="538.7" y="175.5" font-size="7.5" font-weight="bold" fill="#1f3ff5" stroke="#1f3ff5" stroke-width="0.18">IL27RA<tspan font-size="5.6" font-weight="normal" dy="-3">-/-</tspan></text>
<text x="554.1" y="185" font-size="7.6" fill="#222" stroke="#222" stroke-width="0.18" text-anchor="middle">n=24</text>
<text x="590.5" y="175.5" font-size="7.5" font-weight="bold" fill="#111" stroke="#111" stroke-width="0.18" text-anchor="middle">Isotype</text>
<text x="590.5" y="185" font-size="7.6" fill="#222" stroke="#222" stroke-width="0.18" text-anchor="middle">n=26</text>
<text x="626.4" y="175.5" font-size="7.9" font-weight="bold" fill="#b58ef3" stroke="#b58ef3" stroke-width="0.18" text-anchor="middle"><tspan font-family="Liberation Serif" font-weight="normal">α</tspan>-IL-27</text>
<text x="626.4" y="185" font-size="7.6" fill="#222" stroke="#222" stroke-width="0.18" text-anchor="middle">n=25</text>
<text x="646.9" y="175.5" font-size="7.5" font-weight="bold" fill="#1f3ff5" stroke="#1f3ff5" stroke-width="0.18">IL27RA<tspan font-size="5.6" font-weight="normal" dy="-3">-/-</tspan></text>
<text x="662.5" y="185" font-size="7.6" fill="#222" stroke="#222" stroke-width="0.18" text-anchor="middle">n=39</text>
<line x1="575.6" y1="163.8" x2="677.4" y2="163.8" stroke="#42a324" stroke-width="2.1" stroke-linecap="round"/>
<text x="626.4" y="160.1" font-size="7.9" font-weight="bold" fill="#42a324" stroke="#42a324" stroke-width="0.18" text-anchor="middle">+ ZIKV</text>
<text x="0" y="0" font-size="7.6" font-weight="bold" fill="#222" stroke="#222" stroke-width="0.18" text-anchor="middle" transform="translate(475.6,234.3) rotate(-90)">% of fetuses</text>
<rect x="508.6" y="291.4" width="9" height="7.4" fill="#fff" stroke="#222" stroke-width="1" />
<text x="522.6" y="298.1" font-size="8.4" fill="#222" stroke="#222" stroke-width="0.18">Healthy</text>
<rect x="571.4" y="291.4" width="9" height="7.4" fill="#f7930f" stroke="#222" stroke-width="1" />
<text x="585.1" y="298.1" font-size="8.4" fill="#222" stroke="#222" stroke-width="0.18">Early</text>
<rect x="628" y="291.4" width="9" height="7.4" fill="#000" stroke="#222" stroke-width="1" />
<text x="642.3" y="298.1" font-size="8.4" fill="#222" stroke="#222" stroke-width="0.18">Total</text>
<text x="28.5" y="329.7" font-size="11.3" textLength="185.2" lengthAdjust="spacingAndGlyphs" fill="#111" stroke="#111" stroke-width="0.18">Combined Fetal/Placental ZIKV RNA</text>
<line x1="44.6" y1="352.4" x2="44.6" y2="464.9" stroke="#333" stroke-width="1.25" />
<line x1="44" y1="464.3" x2="142.5" y2="464.3" stroke="#333" stroke-width="1.25" />
<line x1="41" y1="353" x2="44.6" y2="353" stroke="#333" stroke-width="1.1" />
<text x="40.4" y="353.9" font-size="4.7" fill="#222" stroke="#222" stroke-width="0.18" text-anchor="end">8</text>
<text x="37.69" y="356.4" font-size="7.3" textLength="8.2" lengthAdjust="spacingAndGlyphs" fill="#222" stroke="#222" stroke-width="0.18" text-anchor="end">10</text>
<line x1="41" y1="373.1" x2="44.6" y2="373.1" stroke="#333" stroke-width="1.1" />
<text x="40.4" y="374" font-size="4.7" fill="#222" stroke="#222" stroke-width="0.18" text-anchor="end">6</text>
<text x="37.69" y="376.5" font-size="7.3" textLength="8.2" lengthAdjust="spacingAndGlyphs" fill="#222" stroke="#222" stroke-width="0.18" text-anchor="end">10</text>
<line x1="41" y1="393.4" x2="44.6" y2="393.4" stroke="#333" stroke-width="1.1" />
<text x="40.4" y="394.3" font-size="4.7" fill="#222" stroke="#222" stroke-width="0.18" text-anchor="end">4</text>
<text x="37.69" y="396.8" font-size="7.3" textLength="8.2" lengthAdjust="spacingAndGlyphs" fill="#222" stroke="#222" stroke-width="0.18" text-anchor="end">10</text>
<line x1="41" y1="413.6" x2="44.6" y2="413.6" stroke="#333" stroke-width="1.1" />
<text x="40.4" y="414.5" font-size="4.7" fill="#222" stroke="#222" stroke-width="0.18" text-anchor="end">2</text>
<text x="37.69" y="417" font-size="7.3" textLength="8.2" lengthAdjust="spacingAndGlyphs" fill="#222" stroke="#222" stroke-width="0.18" text-anchor="end">10</text>
<line x1="41" y1="434" x2="44.6" y2="434" stroke="#333" stroke-width="1.1" />
<text x="40.4" y="434.9" font-size="4.7" fill="#222" stroke="#222" stroke-width="0.18" text-anchor="end">0</text>
<text x="37.69" y="437.4" font-size="7.3" textLength="8.2" lengthAdjust="spacingAndGlyphs" fill="#222" stroke="#222" stroke-width="0.18" text-anchor="end">10</text>
<line x1="41" y1="454.3" x2="44.6" y2="454.3" stroke="#333" stroke-width="1.1" />
<text x="40.4" y="455.2" font-size="4.7" fill="#222" stroke="#222" stroke-width="0.18" text-anchor="end">-2</text>
<text x="36.12" y="457.7" font-size="7.3" textLength="8.2" lengthAdjust="spacingAndGlyphs" fill="#222" stroke="#222" stroke-width="0.18" text-anchor="end">10</text>
<line x1="63.9" y1="464.3" x2="63.9" y2="468.1" stroke="#333" stroke-width="1.1" />
<line x1="93.5" y1="464.3" x2="93.5" y2="468.1" stroke="#333" stroke-width="1.1" />
<line x1="122.5" y1="464.3" x2="122.5" y2="468.1" stroke="#333" stroke-width="1.1" />
<line x1="44.6" y1="454.3" x2="142.5" y2="454.3" stroke="#333" stroke-width="0.8" stroke-dasharray="1.1,1.1"/>
<text x="0" y="0" font-size="9.7" fill="#111" stroke="#111" stroke-width="0.18" text-anchor="middle" transform="translate(9.3,407.2) rotate(-90)">Viral RNA</text>
<text x="0" y="0" font-size="9.7" fill="#111" stroke="#111" stroke-width="0.18" text-anchor="middle" transform="translate(18.6,407.2) rotate(-90)">(PFU equivalents/mg tissue)</text>
<line x1="63.6" y1="344.2" x2="122.8" y2="344.2" stroke="#333" stroke-width="1.25" />
<line x1="63.6" y1="353.9" x2="93.7" y2="353.9" stroke="#333" stroke-width="1.25" />
<text x="86.8" y="345.8" font-size="11.4" textLength="13.1" lengthAdjust="spacingAndGlyphs" font-weight="bold" fill="#111" stroke="#111" stroke-width="0.18">***</text>
<text x="75.1" y="351.6" font-size="7" textLength="6.9" lengthAdjust="spacingAndGlyphs" fill="#333" stroke="#333" stroke-width="0.18">ns</text>
<line x1="53.6" y1="389" x2="74.4" y2="389" stroke="#777" stroke-width="1.2" />
<circle cx="57.4" cy="383.8" r="1.7" fill="none" stroke="#111" stroke-width="1.05"/>
<circle cx="59.9" cy="383.7" r="1.7" fill="none" stroke="#111" stroke-width="1.05"/>
<circle cx="62" cy="384" r="1.7" fill="none" stroke="#111" stroke-width="1.05"/>
<circle cx="63.9" cy="384.1" r="1.7" fill="none" stroke="#111" stroke-width="1.05"/>
<circle cx="66.1" cy="384" r="1.7" fill="none" stroke="#111" stroke-width="1.05"/>
<circle cx="68.4" cy="383.7" r="1.7" fill="none" stroke="#111" stroke-width="1.05"/>
<circle cx="70.9" cy="384.3" r="1.7" fill="none" stroke="#111" stroke-width="1.05"/>
<circle cx="55.2" cy="385.8" r="1.7" fill="none" stroke="#111" stroke-width="1.05"/>
<circle cx="58" cy="386.4" r="1.7" fill="none" stroke="#111" stroke-width="1.05"/>
<circle cx="60.3" cy="386" r="1.7" fill="none" stroke="#111" stroke-width="1.05"/>
<circle cx="63" cy="385.6" r="1.7" fill="none" stroke="#111" stroke-width="1.05"/>
<circle cx="65.3" cy="385.9" r="1.7" fill="none" stroke="#111" stroke-width="1.05"/>
<circle cx="67.1" cy="385.7" r="1.7" fill="none" stroke="#111" stroke-width="1.05"/>
<circle cx="69.7" cy="386.3" r="1.7" fill="none" stroke="#111" stroke-width="1.05"/>
<circle cx="71.9" cy="386.1" r="1.7" fill="none" stroke="#111" stroke-width="1.05"/>
<circle cx="55.9" cy="388.1" r="1.7" fill="none" stroke="#111" stroke-width="1.05"/>
<circle cx="58.1" cy="387.9" r="1.7" fill="none" stroke="#111" stroke-width="1.05"/>
<circle cx="60" cy="388" r="1.7" fill="none" stroke="#111" stroke-width="1.05"/>
<circle cx="62.8" cy="388.1" r="1.7" fill="none" stroke="#111" stroke-width="1.05"/>
<circle cx="64.8" cy="388.3" r="1.7" fill="none" stroke="#111" stroke-width="1.05"/>
<circle cx="67.2" cy="388.1" r="1.7" fill="none" stroke="#111" stroke-width="1.05"/>
<circle cx="69.7" cy="388.4" r="1.7" fill="none" stroke="#111" stroke-width="1.05"/>
<circle cx="71.6" cy="388.3" r="1.7" fill="none" stroke="#111" stroke-width="1.05"/>
<circle cx="57.5" cy="390.7" r="1.7" fill="none" stroke="#111" stroke-width="1.05"/>
<circle cx="60.2" cy="390.2" r="1.7" fill="none" stroke="#111" stroke-width="1.05"/>
<circle cx="62.9" cy="390.1" r="1.7" fill="none" stroke="#111" stroke-width="1.05"/>
<circle cx="64.9" cy="390.6" r="1.7" fill="none" stroke="#111" stroke-width="1.05"/>
<circle cx="67.2" cy="390.4" r="1.7" fill="none" stroke="#111" stroke-width="1.05"/>
<circle cx="69.6" cy="390.6" r="1.7" fill="none" stroke="#111" stroke-width="1.05"/>
<circle cx="59.2" cy="392.7" r="1.7" fill="none" stroke="#111" stroke-width="1.05"/>
<circle cx="61.7" cy="392.4" r="1.7" fill="none" stroke="#111" stroke-width="1.05"/>
<circle cx="63.9" cy="392.7" r="1.7" fill="none" stroke="#111" stroke-width="1.05"/>
<circle cx="66.2" cy="392.6" r="1.7" fill="none" stroke="#111" stroke-width="1.05"/>
<circle cx="68.8" cy="392.9" r="1.7" fill="none" stroke="#111" stroke-width="1.05"/>
<circle cx="60.2" cy="394.9" r="1.7" fill="none" stroke="#111" stroke-width="1.05"/>
<circle cx="62.3" cy="394.9" r="1.7" fill="none" stroke="#111" stroke-width="1.05"/>
<circle cx="65.2" cy="395.2" r="1.7" fill="none" stroke="#111" stroke-width="1.05"/>
<circle cx="67.8" cy="394.6" r="1.7" fill="none" stroke="#111" stroke-width="1.05"/>
<circle cx="60.9" cy="397.1" r="1.7" fill="none" stroke="#111" stroke-width="1.05"/>
<circle cx="63.4" cy="396.9" r="1.7" fill="none" stroke="#111" stroke-width="1.05"/>
<circle cx="66.3" cy="396.6" r="1.7" fill="none" stroke="#111" stroke-width="1.05"/>
<circle cx="61.2" cy="399" r="1.7" fill="none" stroke="#111" stroke-width="1.05"/>
<circle cx="63.5" cy="398.5" r="1.7" fill="none" stroke="#111" stroke-width="1.05"/>
<circle cx="65.9" cy="399.1" r="1.7" fill="none" stroke="#111" stroke-width="1.05"/>
<circle cx="63.8" cy="406.7" r="1.7" fill="none" stroke="#111" stroke-width="1.05"/>
<line x1="83.6" y1="391.1" x2="103" y2="391.1" stroke="#b58ef3" stroke-width="1.2" />
<circle cx="90.5" cy="378.3" r="1.7" fill="none" stroke="#b58ef3" stroke-width="1.05"/>
<circle cx="93.4" cy="378" r="1.7" fill="none" stroke="#b58ef3" stroke-width="1.05"/>
<circle cx="96" cy="379.7" r="1.7" fill="none" stroke="#b58ef3" stroke-width="1.05"/>
<circle cx="90.5" cy="384.8" r="1.7" fill="none" stroke="#b58ef3" stroke-width="1.05"/>
<circle cx="93.4" cy="382.7" r="1.7" fill="none" stroke="#b58ef3" stroke-width="1.05"/>
<circle cx="96" cy="384.1" r="1.7" fill="none" stroke="#b58ef3" stroke-width="1.05"/>
<circle cx="93.4" cy="388.2" r="1.7" fill="none" stroke="#b58ef3" stroke-width="1.05"/>
<circle cx="93.1" cy="391.4" r="1.7" fill="none" stroke="#b58ef3" stroke-width="1.05"/>
<circle cx="85.1" cy="394.6" r="1.7" fill="none" stroke="#b58ef3" stroke-width="1.05"/>
<circle cx="88" cy="393.1" r="1.7" fill="none" stroke="#b58ef3" stroke-width="1.05"/>
<circle cx="96.3" cy="393.1" r="1.7" fill="none" stroke="#b58ef3" stroke-width="1.05"/>
<circle cx="93.8" cy="398" r="1.7" fill="none" stroke="#b58ef3" stroke-width="1.05"/>
<circle cx="90.2" cy="405.2" r="1.7" fill="none" stroke="#b58ef3" stroke-width="1.05"/>
<circle cx="93.4" cy="420.8" r="1.7" fill="none" stroke="#b58ef3" stroke-width="1.05"/>
<circle cx="88.4" cy="395.5" r="1.7" fill="none" stroke="#b58ef3" stroke-width="1.05"/>
<circle cx="98.2" cy="395" r="1.7" fill="none" stroke="#b58ef3" stroke-width="1.05"/>
<circle cx="90.5" cy="405" r="1.7" fill="none" stroke="#b58ef3" stroke-width="1.05"/>
<path d="M93.4,363.4 L95.5,367 L91.3,367 Z" fill="#f7930f" />
<path d="M93.4,367.6 L95.5,371.2 L91.3,371.2 Z" fill="#f7930f" />
<line x1="94.25" y1="360.85" x2="97.75" y2="364.35" stroke="#111" stroke-width="1.15" />
<line x1="94.25" y1="364.35" x2="97.75" y2="360.85" stroke="#111" stroke-width="1.15" />
<line x1="88.75" y1="394.25" x2="92.25" y2="397.75" stroke="#111" stroke-width="1.15" />
<line x1="88.75" y1="397.75" x2="92.25" y2="394.25" stroke="#111" stroke-width="1.15" />
<line x1="99.75" y1="393.75" x2="103.25" y2="397.25" stroke="#111" stroke-width="1.15" />
<line x1="99.75" y1="397.25" x2="103.25" y2="393.75" stroke="#111" stroke-width="1.15" />
<line x1="97.15" y1="400.15" x2="100.65" y2="403.65" stroke="#111" stroke-width="1.15" />
<line x1="97.15" y1="403.65" x2="100.65" y2="400.15" stroke="#111" stroke-width="1.15" />
<line x1="92.05" y1="403.45" x2="95.55" y2="406.95" stroke="#111" stroke-width="1.15" />
<line x1="92.05" y1="406.95" x2="95.55" y2="403.45" stroke="#111" stroke-width="1.15" />
<line x1="93.95" y1="403.45" x2="97.45" y2="406.95" stroke="#111" stroke-width="1.15" />
<line x1="93.95" y1="406.95" x2="97.45" y2="403.45" stroke="#111" stroke-width="1.15" />
<line x1="91.35" y1="413.25" x2="94.85" y2="416.75" stroke="#111" stroke-width="1.15" />
<line x1="91.35" y1="416.75" x2="94.85" y2="413.25" stroke="#111" stroke-width="1.15" />
<line x1="113" y1="381.8" x2="133" y2="381.8" stroke="#1843f2" stroke-width="1.2" />
<circle cx="122.7" cy="360.6" r="1.7" fill="none" stroke="#1843f2" stroke-width="1.05"/>
<circle cx="121.4" cy="364.7" r="1.7" fill="none" stroke="#1843f2" stroke-width="1.05"/>
<circle cx="124.2" cy="366.2" r="1.7" fill="none" stroke="#1843f2" stroke-width="1.05"/>
<circle cx="119.2" cy="367.7" r="1.7" fill="none" stroke="#1843f2" stroke-width="1.05"/>
<circle cx="126.7" cy="368.1" r="1.7" fill="none" stroke="#1843f2" stroke-width="1.05"/>
<circle cx="122.3" cy="369.3" r="1.7" fill="none" stroke="#1843f2" stroke-width="1.05"/>
<circle cx="119.8" cy="372.4" r="1.7" fill="none" stroke="#1843f2" stroke-width="1.05"/>
<circle cx="126.1" cy="372.4" r="1.7" fill="none" stroke="#1843f2" stroke-width="1.05"/>
<circle cx="122.9" cy="373.7" r="1.7" fill="none" stroke="#1843f2" stroke-width="1.05"/>
<circle cx="114.8" cy="374.9" r="1.7" fill="none" stroke="#1843f2" stroke-width="1.05"/>
<circle cx="118" cy="374.9" r="1.7" fill="none" stroke="#1843f2" stroke-width="1.05"/>
<circle cx="131" cy="374.7" r="1.7" fill="none" stroke="#1843f2" stroke-width="1.05"/>
<circle cx="128.5" cy="376.8" r="1.7" fill="none" stroke="#1843f2" stroke-width="1.05"/>
<circle cx="116.7" cy="377.4" r="1.7" fill="none" stroke="#1843f2" stroke-width="1.05"/>
<circle cx="120.5" cy="379.3" r="1.7" fill="none" stroke="#1843f2" stroke-width="1.05"/>
<circle cx="125.4" cy="379.9" r="1.7" fill="none" stroke="#1843f2" stroke-width="1.05"/>
<circle cx="130.4" cy="380.5" r="1.7" fill="none" stroke="#1843f2" stroke-width="1.05"/>
<circle cx="115.5" cy="381.8" r="1.7" fill="none" stroke="#1843f2" stroke-width="1.05"/>
<circle cx="121.7" cy="383" r="1.7" fill="none" stroke="#1843f2" stroke-width="1.05"/>
<circle cx="127.3" cy="382.4" r="1.7" fill="none" stroke="#1843f2" stroke-width="1.05"/>
<circle cx="131" cy="384.9" r="1.7" fill="none" stroke="#1843f2" stroke-width="1.05"/>
<circle cx="118.6" cy="384.9" r="1.7" fill="none" stroke="#1843f2" stroke-width="1.05"/>
<circle cx="124.2" cy="384.9" r="1.7" fill="none" stroke="#1843f2" stroke-width="1.05"/>
<circle cx="116.1" cy="387.4" r="1.7" fill="none" stroke="#1843f2" stroke-width="1.05"/>
<circle cx="121.1" cy="387.4" r="1.7" fill="none" stroke="#1843f2" stroke-width="1.05"/>
<circle cx="126.7" cy="387.4" r="1.7" fill="none" stroke="#1843f2" stroke-width="1.05"/>
<circle cx="129.8" cy="388" r="1.7" fill="none" stroke="#1843f2" stroke-width="1.05"/>
<circle cx="118.6" cy="389.9" r="1.7" fill="none" stroke="#1843f2" stroke-width="1.05"/>
<circle cx="123.6" cy="389.2" r="1.7" fill="none" stroke="#1843f2" stroke-width="1.05"/>
<circle cx="126.1" cy="392.4" r="1.7" fill="none" stroke="#1843f2" stroke-width="1.05"/>
<circle cx="123.6" cy="394.8" r="1.7" fill="none" stroke="#1843f2" stroke-width="1.05"/>
<circle cx="119.5" cy="376" r="1.7" fill="none" stroke="#1843f2" stroke-width="1.05"/>
<circle cx="123.5" cy="377" r="1.7" fill="none" stroke="#1843f2" stroke-width="1.05"/>
<circle cx="127.5" cy="378.5" r="1.7" fill="none" stroke="#1843f2" stroke-width="1.05"/>
<circle cx="117.5" cy="382.8" r="1.7" fill="none" stroke="#1843f2" stroke-width="1.05"/>
<circle cx="125" cy="381.5" r="1.7" fill="none" stroke="#1843f2" stroke-width="1.05"/>
<circle cx="122.5" cy="386" r="1.7" fill="none" stroke="#1843f2" stroke-width="1.05"/>
<circle cx="128.3" cy="385.5" r="1.7" fill="none" stroke="#1843f2" stroke-width="1.05"/>
<circle cx="119.6" cy="388.5" r="1.7" fill="none" stroke="#1843f2" stroke-width="1.05"/>
<circle cx="132" cy="379" r="1.7" fill="none" stroke="#1843f2" stroke-width="1.05"/>
<circle cx="132.4" cy="382.6" r="1.7" fill="none" stroke="#1843f2" stroke-width="1.05"/>
<path d="M114.2,378.5 L116.3,382.1 L112.1,382.1 Z" fill="#f7930f" />
<path d="M114.2,382.9 L116.3,386.5 L112.1,386.5 Z" fill="#f7930f" />
<line x1="117.45" y1="375.65" x2="120.95" y2="379.15" stroke="#111" stroke-width="1.15" />
<line x1="117.45" y1="379.15" x2="120.95" y2="375.65" stroke="#111" stroke-width="1.15" />
<line x1="115.55" y1="378.15" x2="119.05" y2="381.65" stroke="#111" stroke-width="1.15" />
<line x1="115.55" y1="381.65" x2="119.05" y2="378.15" stroke="#111" stroke-width="1.15" />
<line x1="119.35" y1="379.45" x2="122.85" y2="382.95" stroke="#111" stroke-width="1.15" />
<line x1="119.35" y1="382.95" x2="122.85" y2="379.45" stroke="#111" stroke-width="1.15" />
<line x1="126.75" y1="373.75" x2="130.25" y2="377.25" stroke="#111" stroke-width="1.15" />
<line x1="126.75" y1="377.25" x2="130.25" y2="373.75" stroke="#111" stroke-width="1.15" />
<line x1="116.85" y1="389.95" x2="120.35" y2="393.45" stroke="#111" stroke-width="1.15" />
<line x1="116.85" y1="393.45" x2="120.35" y2="389.95" stroke="#111" stroke-width="1.15" />
<line x1="119.35" y1="391.25" x2="122.85" y2="394.75" stroke="#111" stroke-width="1.15" />
<line x1="119.35" y1="394.75" x2="122.85" y2="391.25" stroke="#111" stroke-width="1.15" />
<line x1="120.95" y1="402.05" x2="124.45" y2="405.55" stroke="#111" stroke-width="1.15" />
<line x1="120.95" y1="405.55" x2="124.45" y2="402.05" stroke="#111" stroke-width="1.15" />
<line x1="122.45" y1="406.15" x2="125.95" y2="409.65" stroke="#111" stroke-width="1.15" />
<line x1="122.45" y1="409.65" x2="125.95" y2="406.15" stroke="#111" stroke-width="1.15" />
<line x1="119.35" y1="408.65" x2="122.85" y2="412.15" stroke="#111" stroke-width="1.15" />
<line x1="119.35" y1="412.15" x2="122.85" y2="408.65" stroke="#111" stroke-width="1.15" />
<text x="45.1" y="478.8" font-size="8.2" textLength="28.3" lengthAdjust="spacingAndGlyphs" font-weight="bold" fill="#111" stroke="#111" stroke-width="0.18">Isotype</text>
<text x="78.4" y="478.8" font-size="8.2" textLength="28.1" lengthAdjust="spacingAndGlyphs" fill="#b58ef3" stroke="#b58ef3" stroke-width="0.18"><tspan font-family="Liberation Serif" font-weight="normal">α</tspan>-IL-27</text>
<text x="110.9" y="478.8" font-size="8.2" textLength="28.9" lengthAdjust="spacingAndGlyphs" font-weight="bold" fill="#1f3ff5" stroke="#1f3ff5" stroke-width="0.18"><tspan>IL27RA</tspan></text>
<text x="140" y="475.8" font-size="6" fill="#1f3ff5" stroke="#1f3ff5" stroke-width="0.18">-/-</text>
<rect x="146.1" y="353.5" width="84.4" height="47.7" fill="#fff" stroke="#111" stroke-width="1.3" />
<text x="156.6" y="366" font-size="7.6" font-weight="bold" fill="#111" stroke="#111" stroke-width="0.18" text-anchor="middle">X</text>
<text x="167.4" y="366" font-size="7.5" textLength="52.6" lengthAdjust="spacingAndGlyphs" fill="#222" stroke="#222" stroke-width="0.18">Total Resorption</text>
<path d="M156.5,373.6 L159.65,379 L153.35,379 Z" fill="#f7930f" />
<text x="165.7" y="379.7" font-size="7.5" textLength="54.3" lengthAdjust="spacingAndGlyphs" fill="#222" stroke="#222" stroke-width="0.18">Early Resorption</text>
<circle cx="157.3" cy="391.8" r="2.3" fill="none" stroke="#1f3566" stroke-width="1.3"/>
<text x="167.4" y="393.3" font-size="7.5" textLength="45" lengthAdjust="spacingAndGlyphs" fill="#222" stroke="#222" stroke-width="0.18">Healthy Fetus</text>
<text x="295.5" y="330.9" font-size="11.2" textLength="79.9" lengthAdjust="spacingAndGlyphs" fill="#111" stroke="#111" stroke-width="0.18">Fetal ZIKV RNA</text>
<line x1="286.1" y1="351.9" x2="286.1" y2="464.7" stroke="#333" stroke-width="1.25" />
<line x1="285.5" y1="464.1" x2="384.6" y2="464.1" stroke="#333" stroke-width="1.25" />
<line x1="282.5" y1="352.5" x2="286.1" y2="352.5" stroke="#333" stroke-width="1.1" />
<text x="281.9" y="353.4" font-size="4.7" fill="#222" stroke="#222" stroke-width="0.18" text-anchor="end">8</text>
<text x="279.19" y="355.9" font-size="7.3" textLength="8.2" lengthAdjust="spacingAndGlyphs" fill="#222" stroke="#222" stroke-width="0.18" text-anchor="end">10</text>
<line x1="282.5" y1="372.4" x2="286.1" y2="372.4" stroke="#333" stroke-width="1.1" />
<text x="281.9" y="373.3" font-size="4.7" fill="#222" stroke="#222" stroke-width="0.18" text-anchor="end">6</text>
<text x="279.19" y="375.8" font-size="7.3" textLength="8.2" lengthAdjust="spacingAndGlyphs" fill="#222" stroke="#222" stroke-width="0.18" text-anchor="end">10</text>
<line x1="282.5" y1="392.8" x2="286.1" y2="392.8" stroke="#333" stroke-width="1.1" />
<text x="281.9" y="393.7" font-size="4.7" fill="#222" stroke="#222" stroke-width="0.18" text-anchor="end">4</text>
<text x="279.19" y="396.2" font-size="7.3" textLength="8.2" lengthAdjust="spacingAndGlyphs" fill="#222" stroke="#222" stroke-width="0.18" text-anchor="end">10</text>
<line x1="282.5" y1="413.1" x2="286.1" y2="413.1" stroke="#333" stroke-width="1.1" />
<text x="281.9" y="414" font-size="4.7" fill="#222" stroke="#222" stroke-width="0.18" text-anchor="end">2</text>
<text x="279.19" y="416.5" font-size="7.3" textLength="8.2" lengthAdjust="spacingAndGlyphs" fill="#222" stroke="#222" stroke-width="0.18" text-anchor="end">10</text>
<line x1="282.5" y1="433.3" x2="286.1" y2="433.3" stroke="#333" stroke-width="1.1" />
<text x="281.9" y="434.2" font-size="4.7" fill="#222" stroke="#222" stroke-width="0.18" text-anchor="end">0</text>
<text x="279.19" y="436.7" font-size="7.3" textLength="8.2" lengthAdjust="spacingAndGlyphs" fill="#222" stroke="#222" stroke-width="0.18" text-anchor="end">10</text>
<line x1="282.5" y1="453.9" x2="286.1" y2="453.9" stroke="#333" stroke-width="1.1" />
<text x="281.9" y="454.8" font-size="4.7" fill="#222" stroke="#222" stroke-width="0.18" text-anchor="end">-2</text>
<text x="277.62" y="457.3" font-size="7.3" textLength="8.2" lengthAdjust="spacingAndGlyphs" fill="#222" stroke="#222" stroke-width="0.18" text-anchor="end">10</text>
<line x1="305.5" y1="464.1" x2="305.5" y2="467.9" stroke="#333" stroke-width="1.1" />
<line x1="335.3" y1="464.1" x2="335.3" y2="467.9" stroke="#333" stroke-width="1.1" />
<line x1="364.8" y1="464.1" x2="364.8" y2="467.9" stroke="#333" stroke-width="1.1" />
<line x1="286.1" y1="453.9" x2="384.6" y2="453.9" stroke="#333" stroke-width="0.8" stroke-dasharray="1.1,1.1"/>
<text x="0" y="0" font-size="9.7" fill="#111" stroke="#111" stroke-width="0.18" text-anchor="middle" transform="translate(254.7,409.2) rotate(-90)">Viral RNA</text>
<text x="0" y="0" font-size="9.7" fill="#111" stroke="#111" stroke-width="0.18" text-anchor="middle" transform="translate(266.4,409.2) rotate(-90)">(PFU equivalents/mg tissue)</text>
<line x1="305.3" y1="350.3" x2="364.9" y2="350.3" stroke="#333" stroke-width="1.25" />
<line x1="305.3" y1="359.5" x2="335.8" y2="359.5" stroke="#333" stroke-width="1.25" />
<text x="333.2" y="351.7" font-size="11.3" textLength="4.4" lengthAdjust="spacingAndGlyphs" font-weight="bold" fill="#111" stroke="#111" stroke-width="0.18">*</text>
<text x="316.9" y="356.9" font-size="7" textLength="7.4" lengthAdjust="spacingAndGlyphs" fill="#333" stroke="#333" stroke-width="0.18">ns</text>
<circle cx="303.7" cy="385.1" r="1.85" fill="#000"/>
<circle cx="306" cy="387" r="1.85" fill="#000"/>
<circle cx="305.8" cy="400.4" r="1.85" fill="#000"/>
<circle cx="301.8" cy="407.6" r="1.85" fill="#000"/>
<circle cx="304.1" cy="406" r="1.85" fill="#000"/>
<circle cx="307.4" cy="405.4" r="1.85" fill="#000"/>
<circle cx="310.2" cy="406.6" r="1.85" fill="#000"/>
<circle cx="299" cy="411.3" r="1.85" fill="#000"/>
<circle cx="301.3" cy="411.3" r="1.85" fill="#000"/>
<circle cx="304.6" cy="410.4" r="1.85" fill="#000"/>
<circle cx="307.4" cy="411.3" r="1.85" fill="#000"/>
<circle cx="311.2" cy="410.8" r="1.85" fill="#000"/>
<circle cx="314.4" cy="411.3" r="1.85" fill="#000"/>
<circle cx="297.6" cy="414.1" r="1.85" fill="#000"/>
<circle cx="302.3" cy="416" r="1.85" fill="#000"/>
<circle cx="306" cy="415" r="1.85" fill="#000"/>
<circle cx="310.2" cy="415.5" r="1.85" fill="#000"/>
<circle cx="314" cy="415.3" r="1.85" fill="#000"/>
<circle cx="297.6" cy="418.3" r="1.85" fill="#000"/>
<circle cx="305.8" cy="419.3" r="1.85" fill="#000"/>
<circle cx="310.2" cy="419.3" r="1.85" fill="#000"/>
<circle cx="314" cy="419.1" r="1.85" fill="#000"/>
<circle cx="308.4" cy="413.6" r="1.85" fill="#000"/>
<circle cx="312.1" cy="414.1" r="1.85" fill="#000"/>
<circle cx="300.5" cy="414.5" r="1.85" fill="#000"/>
<line x1="295.7" y1="410.1" x2="315.4" y2="410.1" stroke="#444" stroke-width="1.2" />
<line x1="325.3" y1="411" x2="345.3" y2="411" stroke="#b58ef3" stroke-width="1.2" />
<circle cx="335.2" cy="369.2" r="1.85" fill="#b58ef3"/>
<circle cx="335.2" cy="374.7" r="1.85" fill="#b58ef3"/>
<circle cx="335.2" cy="379.7" r="1.85" fill="#b58ef3"/>
<circle cx="335.2" cy="383.8" r="1.85" fill="#b58ef3"/>
<circle cx="332.5" cy="404.4" r="1.85" fill="#b58ef3"/>
<circle cx="337.7" cy="407.1" r="1.85" fill="#b58ef3"/>
<circle cx="332.5" cy="409.2" r="1.85" fill="#b58ef3"/>
<circle cx="327.2" cy="416.2" r="1.85" fill="#b58ef3"/>
<circle cx="337.7" cy="414.4" r="1.85" fill="#b58ef3"/>
<circle cx="332.5" cy="418.3" r="1.85" fill="#b58ef3"/>
<circle cx="337.7" cy="419.6" r="1.85" fill="#b58ef3"/>
<circle cx="343.2" cy="420.2" r="1.85" fill="#b58ef3"/>
<circle cx="327.2" cy="421.9" r="1.85" fill="#b58ef3"/>
<circle cx="332.5" cy="422.8" r="1.85" fill="#b58ef3"/>
<circle cx="337.7" cy="423.6" r="1.85" fill="#b58ef3"/>
<circle cx="332.5" cy="426.7" r="1.85" fill="#b58ef3"/>
<circle cx="337.7" cy="430.1" r="1.85" fill="#b58ef3"/>
<circle cx="335.1" cy="454" r="1.85" fill="#b58ef3"/>
<circle cx="366.8" cy="384.2" r="1.85" fill="#1843f2"/>
<circle cx="364.6" cy="387.3" r="1.85" fill="#1843f2"/>
<circle cx="363.7" cy="392.2" r="1.85" fill="#1843f2"/>
<circle cx="365.9" cy="392.4" r="1.85" fill="#1843f2"/>
<circle cx="368.9" cy="396.7" r="1.85" fill="#1843f2"/>
<circle cx="360.4" cy="398" r="1.85" fill="#1843f2"/>
<circle cx="362.8" cy="398.3" r="1.85" fill="#1843f2"/>
<circle cx="365.1" cy="397.3" r="1.85" fill="#1843f2"/>
<circle cx="367" cy="399.2" r="1.85" fill="#1843f2"/>
<circle cx="364.2" cy="400.6" r="1.85" fill="#1843f2"/>
<circle cx="362.3" cy="402.9" r="1.85" fill="#1843f2"/>
<circle cx="356.7" cy="404.5" r="1.85" fill="#1843f2"/>
<circle cx="359" cy="405.1" r="1.85" fill="#1843f2"/>
<circle cx="364.2" cy="404.3" r="1.85" fill="#1843f2"/>
<circle cx="367" cy="404.8" r="1.85" fill="#1843f2"/>
<circle cx="370.7" cy="404.5" r="1.85" fill="#1843f2"/>
<circle cx="373.1" cy="407.3" r="1.85" fill="#1843f2"/>
<circle cx="360.9" cy="407.6" r="1.85" fill="#1843f2"/>
<circle cx="365.1" cy="407.9" r="1.85" fill="#1843f2"/>
<circle cx="369.3" cy="408.1" r="1.85" fill="#1843f2"/>
<circle cx="356.2" cy="409.8" r="1.85" fill="#1843f2"/>
<circle cx="359" cy="410.4" r="1.85" fill="#1843f2"/>
<circle cx="364.2" cy="410" r="1.85" fill="#1843f2"/>
<circle cx="367.4" cy="410.4" r="1.85" fill="#1843f2"/>
<circle cx="360.9" cy="413.2" r="1.85" fill="#1843f2"/>
<circle cx="365.1" cy="413.7" r="1.85" fill="#1843f2"/>
<circle cx="368.9" cy="413.5" r="1.85" fill="#1843f2"/>
<circle cx="365.6" cy="420.7" r="1.85" fill="#1843f2"/>
<circle cx="363.7" cy="421.7" r="1.85" fill="#1843f2"/>
<line x1="354.8" y1="404.8" x2="374.5" y2="404.8" stroke="#333" stroke-width="1.2" opacity="0.8"/>
<text x="285.1" y="477.4" font-size="8.2" textLength="28.8" lengthAdjust="spacingAndGlyphs" font-weight="bold" fill="#111" stroke="#111" stroke-width="0.18">Isotype</text>
<text x="317.8" y="477.4" font-size="8.2" textLength="29.1" lengthAdjust="spacingAndGlyphs" fill="#b58ef3" stroke="#b58ef3" stroke-width="0.18"><tspan font-family="Liberation Serif" font-weight="normal">α</tspan>-IL-27</text>
<text x="351.5" y="477.4" font-size="8.2" textLength="28.6" lengthAdjust="spacingAndGlyphs" font-weight="bold" fill="#1f3ff5" stroke="#1f3ff5" stroke-width="0.18"><tspan>IL27RA</tspan></text>
<text x="380.3" y="474.4" font-size="6" fill="#1f3ff5" stroke="#1f3ff5" stroke-width="0.18">-/-</text>
<text x="415" y="330.8" font-size="11.2" textLength="101.2" lengthAdjust="spacingAndGlyphs" fill="#111" stroke="#111" stroke-width="0.18">Placental ZIKV RNA</text>
<line x1="412.7" y1="351.4" x2="412.7" y2="464.8" stroke="#333" stroke-width="1.25" />
<line x1="412.1" y1="464.2" x2="510.4" y2="464.2" stroke="#333" stroke-width="1.25" />
<line x1="409.1" y1="352" x2="412.7" y2="352" stroke="#333" stroke-width="1.1" />
<text x="408.5" y="352.9" font-size="4.7" fill="#222" stroke="#222" stroke-width="0.18" text-anchor="end">8</text>
<text x="405.79" y="355.4" font-size="7.3" textLength="8.2" lengthAdjust="spacingAndGlyphs" fill="#222" stroke="#222" stroke-width="0.18" text-anchor="end">10</text>
<line x1="409.1" y1="372.5" x2="412.7" y2="372.5" stroke="#333" stroke-width="1.1" />
<text x="408.5" y="373.4" font-size="4.7" fill="#222" stroke="#222" stroke-width="0.18" text-anchor="end">6</text>
<text x="405.79" y="375.9" font-size="7.3" textLength="8.2" lengthAdjust="spacingAndGlyphs" fill="#222" stroke="#222" stroke-width="0.18" text-anchor="end">10</text>
<line x1="409.1" y1="392.9" x2="412.7" y2="392.9" stroke="#333" stroke-width="1.1" />
<text x="408.5" y="393.8" font-size="4.7" fill="#222" stroke="#222" stroke-width="0.18" text-anchor="end">4</text>
<text x="405.79" y="396.3" font-size="7.3" textLength="8.2" lengthAdjust="spacingAndGlyphs" fill="#222" stroke="#222" stroke-width="0.18" text-anchor="end">10</text>
<line x1="409.1" y1="413.1" x2="412.7" y2="413.1" stroke="#333" stroke-width="1.1" />
<text x="408.5" y="414" font-size="4.7" fill="#222" stroke="#222" stroke-width="0.18" text-anchor="end">2</text>
<text x="405.79" y="416.5" font-size="7.3" textLength="8.2" lengthAdjust="spacingAndGlyphs" fill="#222" stroke="#222" stroke-width="0.18" text-anchor="end">10</text>
<line x1="409.1" y1="433.6" x2="412.7" y2="433.6" stroke="#333" stroke-width="1.1" />
<text x="408.5" y="434.5" font-size="4.7" fill="#222" stroke="#222" stroke-width="0.18" text-anchor="end">0</text>
<text x="405.79" y="437" font-size="7.3" textLength="8.2" lengthAdjust="spacingAndGlyphs" fill="#222" stroke="#222" stroke-width="0.18" text-anchor="end">10</text>
<line x1="409.1" y1="454" x2="412.7" y2="454" stroke="#333" stroke-width="1.1" />
<text x="408.5" y="454.9" font-size="4.7" fill="#222" stroke="#222" stroke-width="0.18" text-anchor="end">-2</text>
<text x="404.22" y="457.4" font-size="7.3" textLength="8.2" lengthAdjust="spacingAndGlyphs" fill="#222" stroke="#222" stroke-width="0.18" text-anchor="end">10</text>
<line x1="432.4" y1="464.2" x2="432.4" y2="468" stroke="#333" stroke-width="1.1" />
<line x1="461.3" y1="464.2" x2="461.3" y2="468" stroke="#333" stroke-width="1.1" />
<line x1="490.7" y1="464.2" x2="490.7" y2="468" stroke="#333" stroke-width="1.1" />
<line x1="412.7" y1="454" x2="510.4" y2="454" stroke="#333" stroke-width="0.8" stroke-dasharray="1.1,1.1"/>
<line x1="432.1" y1="346.2" x2="491.4" y2="346.2" stroke="#333" stroke-width="1.25" />
<line x1="432.1" y1="355.4" x2="462.2" y2="355.4" stroke="#333" stroke-width="1.25" />
<text x="453" y="347.8" font-size="10.7" textLength="17.4" lengthAdjust="spacingAndGlyphs" font-weight="bold" fill="#111" stroke="#111" stroke-width="0.18">****</text>
<text x="445.2" y="357.6" font-size="10.7" textLength="3.7" lengthAdjust="spacingAndGlyphs" font-weight="bold" fill="#111" stroke="#111" stroke-width="0.18">*</text>
<line x1="422" y1="383.7" x2="443" y2="383.7" stroke="#777" stroke-width="1.2" />
<circle cx="424.4" cy="379.5" r="1.7" fill="none" stroke="#111" stroke-width="1.05"/>
<circle cx="427" cy="379.4" r="1.7" fill="none" stroke="#111" stroke-width="1.05"/>
<circle cx="429" cy="379.5" r="1.7" fill="none" stroke="#111" stroke-width="1.05"/>
<circle cx="431" cy="379.4" r="1.7" fill="none" stroke="#111" stroke-width="1.05"/>
<circle cx="433.6" cy="379.7" r="1.7" fill="none" stroke="#111" stroke-width="1.05"/>
<circle cx="435.5" cy="379.2" r="1.7" fill="none" stroke="#111" stroke-width="1.05"/>
<circle cx="437.8" cy="379.7" r="1.7" fill="none" stroke="#111" stroke-width="1.05"/>
<circle cx="440.6" cy="378.9" r="1.7" fill="none" stroke="#111" stroke-width="1.05"/>
<circle cx="424.4" cy="382.3" r="1.7" fill="none" stroke="#111" stroke-width="1.05"/>
<circle cx="426.5" cy="381.9" r="1.7" fill="none" stroke="#111" stroke-width="1.05"/>
<circle cx="428.5" cy="381.3" r="1.7" fill="none" stroke="#111" stroke-width="1.05"/>
<circle cx="431.2" cy="381.4" r="1.7" fill="none" stroke="#111" stroke-width="1.05"/>
<circle cx="433.4" cy="381.5" r="1.7" fill="none" stroke="#111" stroke-width="1.05"/>
<circle cx="435.6" cy="381.8" r="1.7" fill="none" stroke="#111" stroke-width="1.05"/>
<circle cx="438.4" cy="382.1" r="1.7" fill="none" stroke="#111" stroke-width="1.05"/>
<circle cx="440.8" cy="381.9" r="1.7" fill="none" stroke="#111" stroke-width="1.05"/>
<circle cx="426" cy="384.4" r="1.7" fill="none" stroke="#111" stroke-width="1.05"/>
<circle cx="428.6" cy="384" r="1.7" fill="none" stroke="#111" stroke-width="1.05"/>
<circle cx="431.7" cy="384.7" r="1.7" fill="none" stroke="#111" stroke-width="1.05"/>
<circle cx="434.2" cy="384.4" r="1.7" fill="none" stroke="#111" stroke-width="1.05"/>
<circle cx="436.4" cy="383.9" r="1.7" fill="none" stroke="#111" stroke-width="1.05"/>
<circle cx="439" cy="383.8" r="1.7" fill="none" stroke="#111" stroke-width="1.05"/>
<circle cx="428.2" cy="386.5" r="1.7" fill="none" stroke="#111" stroke-width="1.05"/>
<circle cx="430.7" cy="386.5" r="1.7" fill="none" stroke="#111" stroke-width="1.05"/>
<circle cx="433.2" cy="386.9" r="1.7" fill="none" stroke="#111" stroke-width="1.05"/>
<circle cx="434.8" cy="386.3" r="1.7" fill="none" stroke="#111" stroke-width="1.05"/>
<circle cx="437.9" cy="386.6" r="1.7" fill="none" stroke="#111" stroke-width="1.05"/>
<circle cx="429.8" cy="388.9" r="1.7" fill="none" stroke="#111" stroke-width="1.05"/>
<circle cx="431.5" cy="389.1" r="1.7" fill="none" stroke="#111" stroke-width="1.05"/>
<circle cx="434.4" cy="388.8" r="1.7" fill="none" stroke="#111" stroke-width="1.05"/>
<circle cx="436.3" cy="388.8" r="1.7" fill="none" stroke="#111" stroke-width="1.05"/>
<circle cx="430.4" cy="391.7" r="1.7" fill="none" stroke="#111" stroke-width="1.05"/>
<circle cx="431.8" cy="391.1" r="1.7" fill="none" stroke="#111" stroke-width="1.05"/>
<circle cx="433.8" cy="391" r="1.7" fill="none" stroke="#111" stroke-width="1.05"/>
<circle cx="436.4" cy="391.1" r="1.7" fill="none" stroke="#111" stroke-width="1.05"/>
<circle cx="430.4" cy="393.7" r="1.7" fill="none" stroke="#111" stroke-width="1.05"/>
<circle cx="432.8" cy="394" r="1.7" fill="none" stroke="#111" stroke-width="1.05"/>
<circle cx="435.3" cy="393.9" r="1.7" fill="none" stroke="#111" stroke-width="1.05"/>
<circle cx="432.5" cy="402.8" r="1.7" fill="none" stroke="#111" stroke-width="1.05"/>
<line x1="452" y1="372.7" x2="471.4" y2="372.7" stroke="#b58ef3" stroke-width="1.2" />
<circle cx="463.4" cy="362.9" r="1.7" fill="none" stroke="#b58ef3" stroke-width="1.05"/>
<circle cx="459.8" cy="365.9" r="1.7" fill="none" stroke="#b58ef3" stroke-width="1.05"/>
<circle cx="453.8" cy="374.9" r="1.7" fill="none" stroke="#b58ef3" stroke-width="1.05"/>
<circle cx="456.9" cy="376.6" r="1.7" fill="none" stroke="#b58ef3" stroke-width="1.05"/>
<circle cx="466.3" cy="375.8" r="1.7" fill="none" stroke="#b58ef3" stroke-width="1.05"/>
<circle cx="463.2" cy="378.1" r="1.7" fill="none" stroke="#b58ef3" stroke-width="1.05"/>
<circle cx="453.8" cy="379.3" r="1.7" fill="none" stroke="#b58ef3" stroke-width="1.05"/>
<circle cx="460.1" cy="379" r="1.7" fill="none" stroke="#b58ef3" stroke-width="1.05"/>
<circle cx="466.3" cy="379.9" r="1.7" fill="none" stroke="#b58ef3" stroke-width="1.05"/>
<circle cx="469.9" cy="379.9" r="1.7" fill="none" stroke="#b58ef3" stroke-width="1.05"/>
<circle cx="456.9" cy="381.1" r="1.7" fill="none" stroke="#b58ef3" stroke-width="1.05"/>
<circle cx="460.1" cy="383.8" r="1.7" fill="none" stroke="#b58ef3" stroke-width="1.05"/>
<circle cx="463.2" cy="383.8" r="1.7" fill="none" stroke="#b58ef3" stroke-width="1.05"/>
<circle cx="456.9" cy="387.6" r="1.7" fill="none" stroke="#b58ef3" stroke-width="1.05"/>
<circle cx="460.1" cy="388.3" r="1.7" fill="none" stroke="#b58ef3" stroke-width="1.05"/>
<circle cx="463.2" cy="388.3" r="1.7" fill="none" stroke="#b58ef3" stroke-width="1.05"/>
<circle cx="466.3" cy="389" r="1.7" fill="none" stroke="#b58ef3" stroke-width="1.05"/>
<circle cx="461.4" cy="392.7" r="1.7" fill="none" stroke="#b58ef3" stroke-width="1.05"/>
<line x1="481.2" y1="367.1" x2="500.9" y2="367.1" stroke="#1843f2" stroke-width="1.2" />
<circle cx="491" cy="356.1" r="1.7" fill="none" stroke="#1843f2" stroke-width="1.05"/>
<circle cx="487" cy="360.4" r="1.7" fill="none" stroke="#1843f2" stroke-width="1.05"/>
<circle cx="490.8" cy="362.5" r="1.7" fill="none" stroke="#1843f2" stroke-width="1.05"/>
<circle cx="493.1" cy="363.7" r="1.7" fill="none" stroke="#1843f2" stroke-width="1.05"/>
<circle cx="495.6" cy="364.1" r="1.7" fill="none" stroke="#1843f2" stroke-width="1.05"/>
<circle cx="487" cy="364.6" r="1.7" fill="none" stroke="#1843f2" stroke-width="1.05"/>
<circle cx="489" cy="368.3" r="1.7" fill="none" stroke="#1843f2" stroke-width="1.05"/>
<circle cx="491.7" cy="368.7" r="1.7" fill="none" stroke="#1843f2" stroke-width="1.05"/>
<circle cx="494.7" cy="368.9" r="1.7" fill="none" stroke="#1843f2" stroke-width="1.05"/>
<circle cx="485.8" cy="370.8" r="1.7" fill="none" stroke="#1843f2" stroke-width="1.05"/>
<circle cx="495.8" cy="371.7" r="1.7" fill="none" stroke="#1843f2" stroke-width="1.05"/>
<circle cx="484.9" cy="376" r="1.7" fill="none" stroke="#1843f2" stroke-width="1.05"/>
<circle cx="487.6" cy="375.6" r="1.7" fill="none" stroke="#1843f2" stroke-width="1.05"/>
<circle cx="490.8" cy="375.8" r="1.7" fill="none" stroke="#1843f2" stroke-width="1.05"/>
<circle cx="494" cy="376.7" r="1.7" fill="none" stroke="#1843f2" stroke-width="1.05"/>
<circle cx="499" cy="376" r="1.7" fill="none" stroke="#1843f2" stroke-width="1.05"/>
<circle cx="482.6" cy="379" r="1.7" fill="none" stroke="#1843f2" stroke-width="1.05"/>
<circle cx="486.7" cy="379.4" r="1.7" fill="none" stroke="#1843f2" stroke-width="1.05"/>
<circle cx="490.8" cy="379.4" r="1.7" fill="none" stroke="#1843f2" stroke-width="1.05"/>
<circle cx="494.5" cy="379.4" r="1.7" fill="none" stroke="#1843f2" stroke-width="1.05"/>
<circle cx="497.7" cy="380.4" r="1.7" fill="none" stroke="#1843f2" stroke-width="1.05"/>
<circle cx="484.9" cy="382.6" r="1.7" fill="none" stroke="#1843f2" stroke-width="1.05"/>
<circle cx="489" cy="383.1" r="1.7" fill="none" stroke="#1843f2" stroke-width="1.05"/>
<circle cx="492.6" cy="383.1" r="1.7" fill="none" stroke="#1843f2" stroke-width="1.05"/>
<circle cx="495.8" cy="382.6" r="1.7" fill="none" stroke="#1843f2" stroke-width="1.05"/>
<circle cx="499.5" cy="382.6" r="1.7" fill="none" stroke="#1843f2" stroke-width="1.05"/>
<circle cx="491.7" cy="387.2" r="1.7" fill="none" stroke="#1843f2" stroke-width="1.05"/>
<circle cx="489.9" cy="389.7" r="1.7" fill="none" stroke="#1843f2" stroke-width="1.05"/>
<text x="415.8" y="477" font-size="8.2" textLength="28.3" lengthAdjust="spacingAndGlyphs" font-weight="bold" fill="#111" stroke="#111" stroke-width="0.18">Isotype</text>
<text x="448.7" y="477" font-size="8.2" textLength="28.4" lengthAdjust="spacingAndGlyphs" fill="#b58ef3" stroke="#b58ef3" stroke-width="0.18"><tspan font-family="Liberation Serif" font-weight="normal">α</tspan>-IL-27</text>
<text x="482" y="477" font-size="8.2" textLength="26.6" lengthAdjust="spacingAndGlyphs" font-weight="bold" fill="#1f3ff5" stroke="#1f3ff5" stroke-width="0.18"><tspan>IL27RA</tspan></text>
<text x="508.8" y="474" font-size="6" fill="#1f3ff5" stroke="#1f3ff5" stroke-width="0.18">-/-</text>
<text x="585" y="330.1" font-size="11.2" textLength="100" lengthAdjust="spacingAndGlyphs" fill="#111" stroke="#111" stroke-width="0.18">Maternal ZIKV RNA</text>
<line x1="581" y1="352.6" x2="581" y2="464.2" stroke="#333" stroke-width="1.25" />
<line x1="580.4" y1="463.6" x2="678.4" y2="463.6" stroke="#333" stroke-width="1.25" />
<line x1="577.4" y1="353.2" x2="581" y2="353.2" stroke="#333" stroke-width="1.1" />
<text x="576.8" y="354.1" font-size="4.7" fill="#222" stroke="#222" stroke-width="0.18" text-anchor="end">8</text>
<text x="574.09" y="356.6" font-size="7.3" textLength="8.2" lengthAdjust="spacingAndGlyphs" fill="#222" stroke="#222" stroke-width="0.18" text-anchor="end">10</text>
<line x1="577.4" y1="373.1" x2="581" y2="373.1" stroke="#333" stroke-width="1.1" />
<text x="576.8" y="374" font-size="4.7" fill="#222" stroke="#222" stroke-width="0.18" text-anchor="end">6</text>
<text x="574.09" y="376.5" font-size="7.3" textLength="8.2" lengthAdjust="spacingAndGlyphs" fill="#222" stroke="#222" stroke-width="0.18" text-anchor="end">10</text>
<line x1="577.4" y1="393.4" x2="581" y2="393.4" stroke="#333" stroke-width="1.1" />
<text x="576.8" y="394.3" font-size="4.7" fill="#222" stroke="#222" stroke-width="0.18" text-anchor="end">4</text>
<text x="574.09" y="396.8" font-size="7.3" textLength="8.2" lengthAdjust="spacingAndGlyphs" fill="#222" stroke="#222" stroke-width="0.18" text-anchor="end">10</text>
<line x1="577.4" y1="413.5" x2="581" y2="413.5" stroke="#333" stroke-width="1.1" />
<text x="576.8" y="414.4" font-size="4.7" fill="#222" stroke="#222" stroke-width="0.18" text-anchor="end">2</text>
<text x="574.09" y="416.9" font-size="7.3" textLength="8.2" lengthAdjust="spacingAndGlyphs" fill="#222" stroke="#222" stroke-width="0.18" text-anchor="end">10</text>
<line x1="577.4" y1="433.6" x2="581" y2="433.6" stroke="#333" stroke-width="1.1" />
<text x="576.8" y="434.5" font-size="4.7" fill="#222" stroke="#222" stroke-width="0.18" text-anchor="end">0</text>
<text x="574.09" y="437" font-size="7.3" textLength="8.2" lengthAdjust="spacingAndGlyphs" fill="#222" stroke="#222" stroke-width="0.18" text-anchor="end">10</text>
<line x1="577.4" y1="454" x2="581" y2="454" stroke="#333" stroke-width="1.1" />
<text x="576.8" y="454.9" font-size="4.7" fill="#222" stroke="#222" stroke-width="0.18" text-anchor="end">-2</text>
<text x="572.52" y="457.4" font-size="7.3" textLength="8.2" lengthAdjust="spacingAndGlyphs" fill="#222" stroke="#222" stroke-width="0.18" text-anchor="end">10</text>
<line x1="600.3" y1="463.6" x2="600.3" y2="467.4" stroke="#333" stroke-width="1.1" />
<line x1="629.6" y1="463.6" x2="629.6" y2="467.4" stroke="#333" stroke-width="1.1" />
<line x1="659.4" y1="463.6" x2="659.4" y2="467.4" stroke="#333" stroke-width="1.1" />
<line x1="581" y1="454" x2="678.4" y2="454" stroke="#333" stroke-width="0.8" stroke-dasharray="1.1,1.1"/>
<text x="0" y="0" font-size="9.7" fill="#111" stroke="#111" stroke-width="0.18" text-anchor="middle" transform="translate(546.1,409.2) rotate(-90)">Viral RNA</text>
<text x="0" y="0" font-size="9.7" fill="#111" stroke="#111" stroke-width="0.18" text-anchor="middle" transform="translate(557.7,409.2) rotate(-90)">(PFU equivalents/mg tissue)</text>
<line x1="590.8" y1="431.5" x2="609.9" y2="431.5" stroke="#111" stroke-width="1.2" />
<rect x="593.8" y="427.2" width="4.2" height="4.2" fill="#000" />
<rect x="602.5" y="428.7" width="4.2" height="4.2" fill="#000" />
<rect x="598.2" y="434.4" width="4.2" height="4.2" fill="#000" />
<line x1="620.4" y1="431.5" x2="639" y2="431.5" stroke="#7e5cc0" stroke-width="1.2" />
<rect x="620" y="431.5" width="4.2" height="4.2" fill="#b58ef3" />
<rect x="627.5" y="427.8" width="4.2" height="4.2" fill="#b58ef3" />
<rect x="635.4" y="429.4" width="4.2" height="4.2" fill="#b58ef3" />
<rect x="649.4" y="432" width="4.2" height="4.2" fill="#1843f2" />
<rect x="654.4" y="428.3" width="4.2" height="4.2" fill="#1843f2" />
<rect x="659.5" y="431.1" width="4.2" height="4.2" fill="#1843f2" />
<rect x="664.3" y="430" width="4.2" height="4.2" fill="#1843f2" />
<line x1="650" y1="432.6" x2="668" y2="432.6" stroke="#1a2aa0" stroke-width="1" />
<text x="582.7" y="477.4" font-size="8.2" textLength="28.9" lengthAdjust="spacingAndGlyphs" font-weight="bold" fill="#111" stroke="#111" stroke-width="0.18">Isotype</text>
<text x="615.6" y="477.4" font-size="8.2" textLength="28.4" lengthAdjust="spacingAndGlyphs" fill="#b58ef3" stroke="#b58ef3" stroke-width="0.18"><tspan font-family="Liberation Serif" font-weight="normal">α</tspan>-IL-27</text>
<text x="647.8" y="477.4" font-size="8.2" textLength="27.3" lengthAdjust="spacingAndGlyphs" font-weight="bold" fill="#1f3ff5" stroke="#1f3ff5" stroke-width="0.18"><tspan>IL27RA</tspan></text>
<text x="675.3" y="474.4" font-size="6" fill="#1f3ff5" stroke="#1f3ff5" stroke-width="0.18">-/-</text>
</svg>
</body></html>
